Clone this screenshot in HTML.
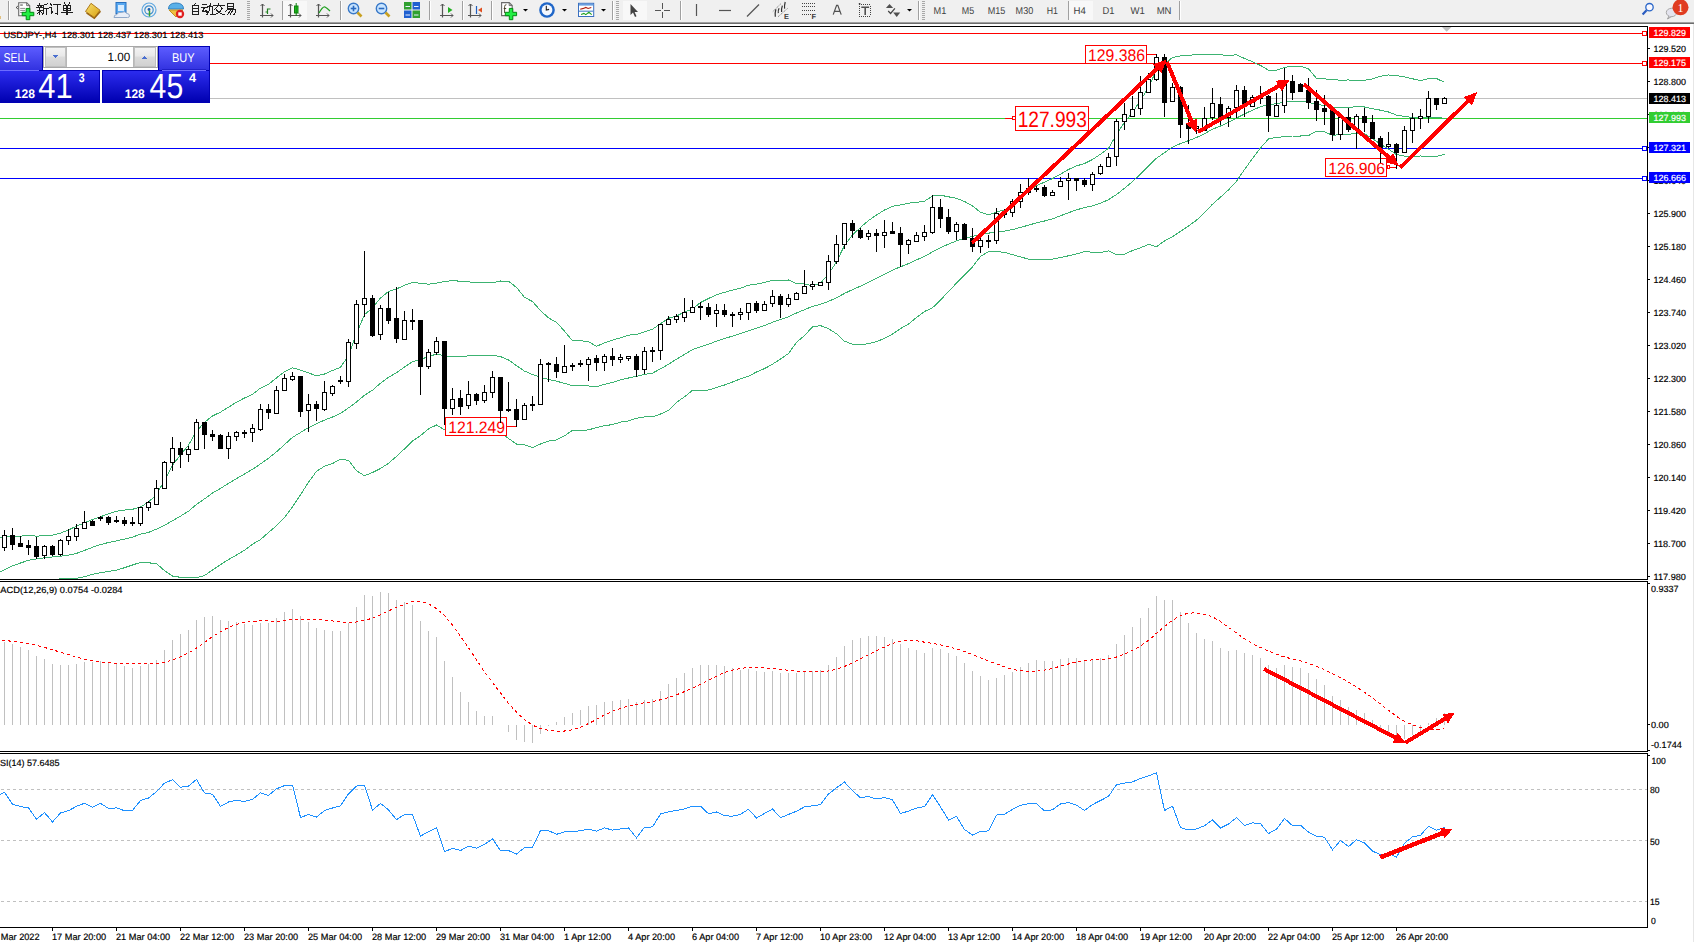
<!DOCTYPE html>
<html><head><meta charset="utf-8"><style>
html,body{margin:0;padding:0;background:#fff;}
body{width:1694px;height:942px;overflow:hidden;position:relative;}
svg{position:absolute;left:0;top:0;display:block;}
</style></head><body>
<svg width="1694" height="942" viewBox="0 0 1694 942" shape-rendering="crispEdges" text-rendering="geometricPrecision">
<rect x="0" y="0" width="1694" height="942" fill="#fff"/>
<rect x="1693" y="24" width="1" height="918" fill="#e6e6e6"/>
<g shape-rendering="geometricPrecision"><rect x="0" y="0" width="1694" height="22" fill="#f0f0f0"/><rect x="0" y="22" width="1694" height="1" fill="#a0a0a0"/><rect x="0" y="23" width="1694" height="1" fill="#6c6c6c"/><g shape-rendering="crispEdges"><line x1="8.5" y1="1" x2="8.5" y2="20" stroke="#a0a0a0"/><line x1="9.5" y1="1" x2="9.5" y2="20" stroke="#ffffff"/></g><g shape-rendering="crispEdges"><line x1="282.5" y1="1" x2="282.5" y2="20" stroke="#a0a0a0"/><line x1="283.5" y1="1" x2="283.5" y2="20" stroke="#ffffff"/></g><g shape-rendering="crispEdges"><line x1="340.5" y1="1" x2="340.5" y2="20" stroke="#a0a0a0"/><line x1="341.5" y1="1" x2="341.5" y2="20" stroke="#ffffff"/></g><g shape-rendering="crispEdges"><line x1="429.5" y1="1" x2="429.5" y2="20" stroke="#a0a0a0"/><line x1="430.5" y1="1" x2="430.5" y2="20" stroke="#ffffff"/></g><g shape-rendering="crispEdges"><line x1="462.5" y1="1" x2="462.5" y2="20" stroke="#a0a0a0"/><line x1="463.5" y1="1" x2="463.5" y2="20" stroke="#ffffff"/></g><g shape-rendering="crispEdges"><line x1="491.5" y1="1" x2="491.5" y2="20" stroke="#a0a0a0"/><line x1="492.5" y1="1" x2="492.5" y2="20" stroke="#ffffff"/></g><g shape-rendering="crispEdges"><line x1="612.5" y1="1" x2="612.5" y2="20" stroke="#a0a0a0"/><line x1="613.5" y1="1" x2="613.5" y2="20" stroke="#ffffff"/></g><g shape-rendering="crispEdges"><line x1="680.5" y1="1" x2="680.5" y2="20" stroke="#a0a0a0"/><line x1="681.5" y1="1" x2="681.5" y2="20" stroke="#ffffff"/></g><g shape-rendering="crispEdges"><line x1="918.5" y1="1" x2="918.5" y2="20" stroke="#a0a0a0"/><line x1="919.5" y1="1" x2="919.5" y2="20" stroke="#ffffff"/></g><g shape-rendering="crispEdges"><line x1="1068.5" y1="1" x2="1068.5" y2="20" stroke="#a0a0a0"/><line x1="1069.5" y1="1" x2="1069.5" y2="20" stroke="#ffffff"/></g><g shape-rendering="crispEdges"><line x1="1179.5" y1="1" x2="1179.5" y2="20" stroke="#a0a0a0"/><line x1="1180.5" y1="1" x2="1180.5" y2="20" stroke="#ffffff"/></g><rect x="247" y="1" width="3" height="1" fill="#a8a8a8"/><rect x="247" y="3" width="3" height="1" fill="#a8a8a8"/><rect x="247" y="5" width="3" height="1" fill="#a8a8a8"/><rect x="247" y="7" width="3" height="1" fill="#a8a8a8"/><rect x="247" y="9" width="3" height="1" fill="#a8a8a8"/><rect x="247" y="11" width="3" height="1" fill="#a8a8a8"/><rect x="247" y="13" width="3" height="1" fill="#a8a8a8"/><rect x="247" y="15" width="3" height="1" fill="#a8a8a8"/><rect x="247" y="17" width="3" height="1" fill="#a8a8a8"/><rect x="247" y="19" width="3" height="1" fill="#a8a8a8"/><rect x="616" y="1" width="3" height="1" fill="#a8a8a8"/><rect x="616" y="3" width="3" height="1" fill="#a8a8a8"/><rect x="616" y="5" width="3" height="1" fill="#a8a8a8"/><rect x="616" y="7" width="3" height="1" fill="#a8a8a8"/><rect x="616" y="9" width="3" height="1" fill="#a8a8a8"/><rect x="616" y="11" width="3" height="1" fill="#a8a8a8"/><rect x="616" y="13" width="3" height="1" fill="#a8a8a8"/><rect x="616" y="15" width="3" height="1" fill="#a8a8a8"/><rect x="616" y="17" width="3" height="1" fill="#a8a8a8"/><rect x="616" y="19" width="3" height="1" fill="#a8a8a8"/><rect x="922" y="1" width="3" height="1" fill="#a8a8a8"/><rect x="922" y="3" width="3" height="1" fill="#a8a8a8"/><rect x="922" y="5" width="3" height="1" fill="#a8a8a8"/><rect x="922" y="7" width="3" height="1" fill="#a8a8a8"/><rect x="922" y="9" width="3" height="1" fill="#a8a8a8"/><rect x="922" y="11" width="3" height="1" fill="#a8a8a8"/><rect x="922" y="13" width="3" height="1" fill="#a8a8a8"/><rect x="922" y="15" width="3" height="1" fill="#a8a8a8"/><rect x="922" y="17" width="3" height="1" fill="#a8a8a8"/><rect x="922" y="19" width="3" height="1" fill="#a8a8a8"/><rect x="0" y="16" width="1" height="3" fill="#e0c080"/><rect x="283" y="1" width="24" height="19" fill="#f8f8f8"/><rect x="623" y="1" width="24" height="19" fill="#f8f8f8"/><rect x="1069" y="1" width="24" height="19" fill="#f8f8f8"/><path d="M18.7 2.7 h8 l3 3 v10 h-11 z" fill="#fff" stroke="#6a6a6a" stroke-width="1.1"/><path d="M26.7 2.7 v3 h3" fill="none" stroke="#6a6a6a"/><rect x="20.2" y="4.3" width="2.6" height="1.5" fill="#808080"/><path d="M20.2 8.4 h5 M20.2 10.4 h5 M20.2 12.5 h3" stroke="#808080" stroke-width="0.9"/><path d="M16.2 7.5 l1.6 -1.4 M16.2 7.5 l1.6 1.4" stroke="#222" stroke-width="0.9"/><polygon points="26.2,8.4 29.8,8.4 29.8,12.3 33.8,12.3 33.8,15.7 29.8,15.7 29.8,19.7 26.2,19.7 26.2,15.7 22.2,15.7 22.2,12.3 26.2,12.3" fill="#22ee44" stroke="#008a10" stroke-width="1"/><path transform="translate(37,3.2) scale(0.95)" d="M3 0.5v1.2M0.5 2h5M1.6 3l0.6 1.4M4.4 3l-0.6 1.4M0 5h6M0.5 7.5h5M3 5v7M3 8l-2.5 3M3 8l2.3 2.3M11 0.6l-3.8 1.4v4.3q0 3.5-1.4 5.7M7.2 5.6h4.8M9.7 5.6v6.4" fill="none" stroke="#202020" stroke-width="1.15" stroke-linecap="square" shape-rendering="crispEdges"/><path transform="translate(49.3,3.2) scale(0.95)" d="M1.2 0.8l1.2 1.2M0.3 4.2h2v6l1.5-1.3M4.5 1.5h7M8.5 1.5v10l-1.6-1" fill="none" stroke="#202020" stroke-width="1.15" stroke-linecap="square" shape-rendering="crispEdges"/><path transform="translate(61.3,3.2) scale(0.95)" d="M3.2 0l1.1 1.7M8.8 0l-1.1 1.7M2.2 2.7h7.6v5.4h-7.6zM2.2 5.4h7.6M6 2.7v9.3M0.4 9.9h11.2" fill="none" stroke="#202020" stroke-width="1.15" stroke-linecap="square" shape-rendering="crispEdges"/><path transform="translate(189.8,3.2) scale(0.95)" d="M6 0l-1 1.6M2.5 2h7v10h-7zM2.5 5.2h7M2.5 8.6h7" fill="none" stroke="#202020" stroke-width="1.15" stroke-linecap="square" shape-rendering="crispEdges"/><path transform="translate(201.6,3.2) scale(0.95)" d="M0.6 1.6h4.8M0 4.2h6M3.2 4.2l-2.5 5h5M4.4 7.4l1.3 2.3M6.4 3.6h5v7q0 1.5-1.5 1.5M9 0.4q0 8-3.2 11.6" fill="none" stroke="#202020" stroke-width="1.15" stroke-linecap="square" shape-rendering="crispEdges"/><path transform="translate(213.2,3.2) scale(0.95)" d="M6 0v1.5M0.4 2.2h11.2M4.2 3.6l-2.6 2.6M7.8 3.6l2.6 2.6M3 6.2q3 5 8.6 5.8M9 6.2q-3 5-8.6 5.8" fill="none" stroke="#202020" stroke-width="1.15" stroke-linecap="square" shape-rendering="crispEdges"/><path transform="translate(224.8,3.2) scale(0.95)" d="M2.5 0.5h7v5h-7zM2.5 3h7M3.6 5.6l-3 3.4M3 7.1h8.2q0 4.8-2 4.8M6.1 7.1l-3 4.5M8.6 7.1l-3 4.5" fill="none" stroke="#202020" stroke-width="1.15" stroke-linecap="square" shape-rendering="crispEdges"/><defs><linearGradient id="gbk" x1="0" y1="0" x2="1" y2="1"><stop offset="0" stop-color="#f8e070"/><stop offset="1" stop-color="#d8a010"/></linearGradient></defs><path d="M85.5 11.5 L91 3.3 L100 10.2 L94.5 17.6 Z" fill="url(#gbk)" stroke="#a87010" stroke-width="0.9"/><path d="M86.5 13 L94.3 18.3 L100.5 11.2" fill="none" stroke="#9a6410" stroke-width="1.4"/><rect x="116" y="2.5" width="10" height="11" fill="#58a8f0" stroke="#2870c0"/><rect x="118" y="5" width="6" height="6" fill="#d8ecff"/><path d="M114 17.5 q0 -3 3 -3 q1 -3 4.5 -2 q3 -2 5.5 1 q2.5 0 2.5 2.5 q0 1.5 -2 1.5 z" fill="#e8eef8" stroke="#90a8c8"/><circle cx="149" cy="10" r="7" fill="none" stroke="#60a8e0" stroke-width="1.2"/><circle cx="149" cy="10" r="4.2" fill="none" stroke="#4090d0" stroke-width="1.2"/><circle cx="149" cy="9.5" r="1.4" fill="#2060b0"/><path d="M149.5 10.5 v6" stroke="#30a030" stroke-width="1.5"/><path d="M168.5 9 q0 -6 7.5 -6 q7.5 0 7.5 6 z" fill="#5ab0e8" stroke="#3080c0"/><path d="M169 10 l7 7 l7 -7 z" fill="#f0c040" stroke="#c09020"/><circle cx="180" cy="14" r="4.2" fill="#e02020"/><rect x="178.3" y="12.3" width="3.4" height="3.4" fill="#fff"/><path d="M262.5 4 v13.5 M260 15.5 h13" stroke="#555" stroke-width="1.2" fill="none"/><path d="M260.5 6 l2 -2 l2 2 M271 13.5 l2 2 l-2 2" stroke="#555" fill="none"/><path d="M267.5 14 v-5 h3 M267.5 12 h-2" stroke="#208020" stroke-width="1.2" fill="none"/><path d="M290.5 4 v13.5 M288 15.5 h13" stroke="#555" stroke-width="1.2" fill="none"/><path d="M288.5 6 l2 -2 l2 2 M299 13.5 l2 2 l-2 2" stroke="#555" fill="none"/><rect x="294.5" y="6" width="3.5" height="7" fill="#20d020" stroke="#108010"/><path d="M296.2 3 v13" stroke="#108010"/><path d="M318.5 4 v13.5 M316 15.5 h13" stroke="#555" stroke-width="1.2" fill="none"/><path d="M316.5 6 l2 -2 l2 2 M327 13.5 l2 2 l-2 2" stroke="#555" fill="none"/><path d="M319 13 q4 -7 6 -6 q2 1 5 4" stroke="#20a020" stroke-width="1.2" fill="none"/><circle cx="353.5" cy="8.5" r="5.2" fill="#c8e4ff" stroke="#3878c8" stroke-width="1.4"/><path d="M357.5 12.5 l4 4" stroke="#c8a020" stroke-width="2.6"/><path d="M350.7 8.5 h5.6" stroke="#2868c0" stroke-width="1.6"/><path d="M353.5 5.7 v5.6" stroke="#2868c0" stroke-width="1.6"/><circle cx="381.5" cy="8.5" r="5.2" fill="#c8e4ff" stroke="#3878c8" stroke-width="1.4"/><path d="M385.5 12.5 l4 4" stroke="#c8a020" stroke-width="2.6"/><path d="M378.7 8.5 h5.6" stroke="#2868c0" stroke-width="1.6"/><rect x="404" y="2" width="7.5" height="7.5" fill="#30a030"/><rect x="412.5" y="2" width="7.5" height="7.5" fill="#2060d0"/><rect x="404" y="10.5" width="7.5" height="7.5" fill="#2060d0"/><rect x="412.5" y="10.5" width="7.5" height="7.5" fill="#30a030"/><path d="M405.5 6.5 h4.5 M414 6.5 h4.5 M405.5 15 h4.5 M414 15 h4.5" stroke="#e8f0ff"/><path d="M442.5 4 v13.5 M440 15.5 h13" stroke="#555" stroke-width="1.2" fill="none"/><path d="M440.5 6 l2 -2 l2 2 M451 13.5 l2 2 l-2 2" stroke="#555" fill="none"/><polygon points="448,7 448,13 452.5,10" fill="#20b020"/><path d="M470.5 4 v13.5 M468 15.5 h13" stroke="#555" stroke-width="1.2" fill="none"/><path d="M468.5 6 l2 -2 l2 2 M479 13.5 l2 2 l-2 2" stroke="#555" fill="none"/><path d="M476.5 6 v8" stroke="#2060c0" stroke-width="1.2"/><polygon points="478,10 482,7.5 482,12.5" fill="#e05020"/><path d="M501.6 2.6 h7.6 l3 3 v10 h-10.6 z" fill="#fff" stroke="#6a6a6a" stroke-width="1.1"/><path d="M509.2 2.6 v3 h3" fill="none" stroke="#6a6a6a"/><path d="M504.6 13 v-6.5 q0 -1.8 1.8 -1.8 M503.7 8.5 h2.5" fill="none" stroke="#403820" stroke-width="0.9"/><polygon points="509.3,8.4 512.8,8.4 512.8,12.3 516.6,12.3 516.6,15.7 512.8,15.7 512.8,19.7 509.3,19.7 509.3,15.7 505.3,15.7 505.3,12.3 509.3,12.3" fill="#22ee44" stroke="#008a10" stroke-width="1"/><polygon points="523,9 528,9 525.5,11.5" fill="#000"/><polygon points="562,9 567,9 564.5,11.5" fill="#000"/><polygon points="601,9 606,9 603.5,11.5" fill="#000"/><polygon points="907,9 912,9 909.5,11.5" fill="#000"/><circle cx="547" cy="10" r="7.8" fill="#1f66c8"/><circle cx="547" cy="10" r="5.4" fill="#f4f8ff"/><path d="M546.3 5.8 v4.2 l2.8 -0.6" stroke="#222" stroke-width="1.1" fill="none"/><rect x="578.5" y="3.3" width="15.2" height="13.2" fill="#fff" stroke="#3a70c0"/><rect x="579" y="3.8" width="14.2" height="1.8" fill="#6aa0e0"/><rect x="579" y="10.6" width="14.2" height="1.2" fill="#5a90d0"/><path d="M580.2 9.3 L583.5 8.4 L585.8 7.4 L588.1 8.4 L591.3 7.4" stroke="#b02010" stroke-width="1.1" fill="none"/><path d="M581.1 14.6 L583.9 13.4 L585.8 14.6 L588.9 12.3 L591.7 14.6" stroke="#20a020" stroke-width="1.1" fill="none"/><polygon points="630.5,4 630.5,15 633,12.5 635,17 636.5,16.3 634.6,12 638,12" fill="#444"/><path d="M662.5 3 v15 M655 10.5 h15" stroke="#555"/><rect x="661" y="9" width="3" height="3" fill="#f0f0f0"/><path d="M696.5 4 v12" stroke="#555" stroke-width="1.2"/><path d="M719 10.5 h12" stroke="#555" stroke-width="1.2"/><path d="M747 16.5 l12 -12" stroke="#555" stroke-width="1.2"/><path d="M772.8 11.6 L780.8 3.8 M778 16.8 L787.6 8.4" stroke="#777" stroke-width="0.9" stroke-dasharray="1.2,0.8" fill="none"/><path d="M775.3 16.8 q-0.5 -4 0.6 -7.6 M778.3 13.2 q-0.4 -3 0.8 -5 M781.6 12 q-0.3 -3.5 0.8 -6.4 M784.6 8.6 q-0.4 -3 0.6 -6.6" stroke="#333" stroke-width="1.2" fill="none"/><text x="783.9" y="19" style="font-family:'Liberation Sans';font-size:7.4px;font-weight:bold" fill="#3a3a3a">E</text><rect x="802" y="3" width="1" height="1" fill="#444" shape-rendering="crispEdges"/><rect x="804" y="3" width="1" height="1" fill="#444" shape-rendering="crispEdges"/><rect x="806" y="3" width="1" height="1" fill="#444" shape-rendering="crispEdges"/><rect x="808" y="3" width="1" height="1" fill="#444" shape-rendering="crispEdges"/><rect x="810" y="3" width="1" height="1" fill="#444" shape-rendering="crispEdges"/><rect x="812" y="3" width="1" height="1" fill="#444" shape-rendering="crispEdges"/><rect x="814" y="3" width="1" height="1" fill="#444" shape-rendering="crispEdges"/><rect x="802" y="6" width="1" height="1" fill="#444" shape-rendering="crispEdges"/><rect x="804" y="6" width="1" height="1" fill="#444" shape-rendering="crispEdges"/><rect x="806" y="6" width="1" height="1" fill="#444" shape-rendering="crispEdges"/><rect x="808" y="6" width="1" height="1" fill="#444" shape-rendering="crispEdges"/><rect x="810" y="6" width="1" height="1" fill="#444" shape-rendering="crispEdges"/><rect x="812" y="6" width="1" height="1" fill="#444" shape-rendering="crispEdges"/><rect x="814" y="6" width="1" height="1" fill="#444" shape-rendering="crispEdges"/><rect x="802" y="10" width="1" height="1" fill="#444" shape-rendering="crispEdges"/><rect x="804" y="10" width="1" height="1" fill="#444" shape-rendering="crispEdges"/><rect x="806" y="10" width="1" height="1" fill="#444" shape-rendering="crispEdges"/><rect x="808" y="10" width="1" height="1" fill="#444" shape-rendering="crispEdges"/><rect x="810" y="10" width="1" height="1" fill="#444" shape-rendering="crispEdges"/><rect x="812" y="10" width="1" height="1" fill="#444" shape-rendering="crispEdges"/><rect x="814" y="10" width="1" height="1" fill="#444" shape-rendering="crispEdges"/><rect x="802" y="14" width="1" height="1" fill="#444" shape-rendering="crispEdges"/><rect x="804" y="14" width="1" height="1" fill="#444" shape-rendering="crispEdges"/><rect x="806" y="14" width="1" height="1" fill="#444" shape-rendering="crispEdges"/><rect x="808" y="14" width="1" height="1" fill="#444" shape-rendering="crispEdges"/><rect x="810" y="14" width="1" height="1" fill="#444" shape-rendering="crispEdges"/><text x="811.6" y="19" style="font-family:'Liberation Sans';font-size:7.4px;font-weight:bold" fill="#3a3a3a">F</text><path d="M833.2 14.6 L836.6 5.4 L837.8 5.4 L841.2 14.6 M834.6 11.4 h5.2" stroke="#505050" stroke-width="1.2" fill="none"/><rect x="859" y="4" width="1" height="1" fill="#444" shape-rendering="crispEdges"/><rect x="859" y="16" width="1" height="1" fill="#444" shape-rendering="crispEdges"/><rect x="861" y="4" width="1" height="1" fill="#444" shape-rendering="crispEdges"/><rect x="861" y="16" width="1" height="1" fill="#444" shape-rendering="crispEdges"/><rect x="863" y="4" width="1" height="1" fill="#444" shape-rendering="crispEdges"/><rect x="863" y="16" width="1" height="1" fill="#444" shape-rendering="crispEdges"/><rect x="865" y="4" width="1" height="1" fill="#444" shape-rendering="crispEdges"/><rect x="865" y="16" width="1" height="1" fill="#444" shape-rendering="crispEdges"/><rect x="867" y="4" width="1" height="1" fill="#444" shape-rendering="crispEdges"/><rect x="867" y="16" width="1" height="1" fill="#444" shape-rendering="crispEdges"/><rect x="869" y="4" width="1" height="1" fill="#444" shape-rendering="crispEdges"/><rect x="869" y="16" width="1" height="1" fill="#444" shape-rendering="crispEdges"/><rect x="859" y="6" width="1" height="1" fill="#444" shape-rendering="crispEdges"/><rect x="870" y="6" width="1" height="1" fill="#444" shape-rendering="crispEdges"/><rect x="859" y="8" width="1" height="1" fill="#444" shape-rendering="crispEdges"/><rect x="870" y="8" width="1" height="1" fill="#444" shape-rendering="crispEdges"/><rect x="859" y="10" width="1" height="1" fill="#444" shape-rendering="crispEdges"/><rect x="870" y="10" width="1" height="1" fill="#444" shape-rendering="crispEdges"/><rect x="859" y="12" width="1" height="1" fill="#444" shape-rendering="crispEdges"/><rect x="870" y="12" width="1" height="1" fill="#444" shape-rendering="crispEdges"/><rect x="859" y="14" width="1" height="1" fill="#444" shape-rendering="crispEdges"/><rect x="870" y="14" width="1" height="1" fill="#444" shape-rendering="crispEdges"/><rect x="858.8" y="3" width="1.6" height="1.4" fill="#444"/><path d="M861.3 7.3 h7.8 M865.2 7.3 v7.6" stroke="#505050" stroke-width="1.6" fill="none"/><polygon points="889.5,4 893.2,8 885.9,8" fill="#505050"/><path d="M888.2 11 L890.6 13.5 L894.9 8.3" stroke="#444" stroke-width="1.2" fill="none"/><polygon points="893.2,12.6 900.2,12.6 896.7,17" fill="#505050"/><text x="933.5" y="14.3" style="font-family:'Liberation Sans';font-size:10px" fill="#404040" textLength="12.8" lengthAdjust="spacingAndGlyphs">M1</text><text x="961.8" y="14.3" style="font-family:'Liberation Sans';font-size:10px" fill="#404040" textLength="12.4" lengthAdjust="spacingAndGlyphs">M5</text><text x="987.7" y="14.3" style="font-family:'Liberation Sans';font-size:10px" fill="#404040" textLength="17.6" lengthAdjust="spacingAndGlyphs">M15</text><text x="1015.6" y="14.3" style="font-family:'Liberation Sans';font-size:10px" fill="#404040" textLength="17.6" lengthAdjust="spacingAndGlyphs">M30</text><text x="1046.7" y="14.3" style="font-family:'Liberation Sans';font-size:10px" fill="#404040" textLength="11.2" lengthAdjust="spacingAndGlyphs">H1</text><text x="1073.5" y="14.3" style="font-family:'Liberation Sans';font-size:10px" fill="#404040" textLength="12.3" lengthAdjust="spacingAndGlyphs">H4</text><text x="1102.5" y="14.3" style="font-family:'Liberation Sans';font-size:10px" fill="#404040" textLength="12.0" lengthAdjust="spacingAndGlyphs">D1</text><text x="1130.4" y="14.3" style="font-family:'Liberation Sans';font-size:10px" fill="#404040" textLength="14.3" lengthAdjust="spacingAndGlyphs">W1</text><text x="1156.7" y="14.3" style="font-family:'Liberation Sans';font-size:10px" fill="#404040" textLength="14.8" lengthAdjust="spacingAndGlyphs">MN</text><circle cx="1649.5" cy="7.2" r="3.7" fill="#f8f8ff" stroke="#2a66c8" stroke-width="1.3"/><path d="M1646.6 10.3 l-4 4.2" stroke="#2a5cc0" stroke-width="2.2"/><ellipse cx="1671.5" cy="12.5" rx="5.2" ry="4.2" fill="#e4e4ee" stroke="#a8a8a8"/><path d="M1669 16 l-1.5 3 l4 -2.5" fill="#d8d8e0" stroke="#a0a0a0"/><circle cx="1680.5" cy="7.3" r="8" fill="#e03c20"/><text x="1677.5" y="11.5" style="font-family:'Liberation Serif';font-size:12px" fill="#fff">1</text></g>
<defs><clipPath id="cm"><rect x="0" y="27" width="1647" height="552"/></clipPath><clipPath id="cd"><rect x="0" y="582" width="1647" height="169"/></clipPath><clipPath id="cr"><rect x="0" y="754" width="1647" height="173"/></clipPath></defs><g clip-path="url(#cm)"><line x1="0" y1="33.5" x2="1643" y2="33.5" stroke="#ff0000"/><line x1="0" y1="63.5" x2="1643" y2="63.5" stroke="#ff0000"/><line x1="210" y1="98.5" x2="1647" y2="98.5" stroke="#c0c0c0"/><line x1="0" y1="118.5" x2="1647" y2="118.5" stroke="#32cd32"/><line x1="0" y1="148.5" x2="1643" y2="148.5" stroke="#0000ff"/><line x1="0" y1="178.5" x2="1643" y2="178.5" stroke="#0000ff"/><rect x="1642.5" y="31.5" width="4" height="4" fill="#fff" stroke="#ff0000"/><rect x="1642.5" y="61.5" width="4" height="4" fill="#fff" stroke="#ff0000"/><rect x="1642.5" y="146.5" width="4" height="4" fill="#fff" stroke="#0000ff"/><rect x="1642.5" y="176.5" width="4" height="4" fill="#fff" stroke="#0000ff"/><polyline points="-3.5,537.3 4.5,537.1 12.5,536.8 20.5,536.1 28.5,535.4 36.5,536.2 44.5,535.5 52.5,535.1 60.5,533.1 68.5,529.9 76.5,526.2 84.5,522.8 92.5,519.5 100.5,516.8 108.5,513.7 116.5,511.2 124.5,510.1 132.5,509.3 140.5,507.0 148.5,502.0 156.5,494.6 164.5,480.4 172.5,465.2 180.5,454.8 188.5,445.2 196.5,431.3 204.5,422.3 212.5,416.0 220.5,412.1 228.5,407.2 236.5,402.2 244.5,398.0 252.5,394.4 260.5,388.1 268.5,384.3 276.5,377.9 284.5,371.6 292.5,367.8 300.5,370.1 308.5,372.9 316.5,375.9 324.5,374.0 332.5,370.5 340.5,367.4 348.5,355.5 356.5,333.3 364.5,314.7 372.5,307.9 380.5,298.0 388.5,291.5 396.5,289.0 404.5,285.2 412.5,282.4 420.5,283.3 428.5,284.2 436.5,283.2 444.5,281.5 452.5,280.7 460.5,281.2 468.5,281.9 476.5,282.4 484.5,282.5 492.5,282.7 500.5,281.0 508.5,281.3 516.5,287.4 524.5,297.4 532.5,301.5 540.5,310.6 548.5,317.8 556.5,322.4 564.5,331.1 572.5,340.9 580.5,340.6 588.5,341.8 596.5,346.3 604.5,342.9 612.5,340.1 620.5,337.8 628.5,335.1 636.5,334.6 644.5,331.9 652.5,329.3 660.5,323.6 668.5,318.3 676.5,315.9 684.5,312.2 692.5,308.9 700.5,302.5 708.5,298.5 716.5,294.9 724.5,292.3 732.5,290.2 740.5,288.2 748.5,285.2 756.5,284.2 764.5,282.4 772.5,280.4 780.5,280.2 788.5,280.0 796.5,283.6 804.5,283.9 812.5,285.9 820.5,283.1 828.5,274.2 836.5,261.8 844.5,245.5 852.5,234.9 860.5,227.4 868.5,220.5 876.5,215.0 884.5,210.0 892.5,206.3 900.5,205.0 908.5,203.2 916.5,202.3 924.5,201.2 932.5,196.0 940.5,195.2 948.5,196.8 956.5,198.4 964.5,201.5 972.5,206.0 980.5,212.2 988.5,214.8 996.5,212.0 1004.5,209.8 1012.5,204.6 1020.5,197.9 1028.5,191.2 1036.5,185.6 1044.5,182.1 1052.5,178.6 1060.5,174.1 1068.5,169.5 1076.5,165.9 1084.5,163.5 1092.5,159.5 1100.5,154.2 1108.5,148.4 1116.5,134.3 1124.5,122.2 1132.5,112.5 1140.5,100.3 1148.5,87.6 1156.5,69.8 1164.5,64.6 1172.5,57.4 1180.5,56.0 1188.5,55.2 1196.5,54.8 1204.5,54.9 1212.5,54.3 1220.5,54.9 1228.5,55.2 1236.5,54.9 1244.5,58.5 1252.5,61.7 1260.5,65.5 1268.5,70.2 1276.5,70.3 1284.5,67.3 1292.5,66.3 1300.5,66.1 1308.5,68.8 1316.5,78.4 1324.5,78.8 1332.5,79.8 1340.5,80.1 1348.5,80.0 1356.5,80.5 1364.5,80.3 1372.5,78.9 1380.5,76.2 1388.5,75.0 1396.5,75.6 1404.5,76.8 1412.5,78.8 1420.5,80.6 1428.5,78.7 1436.5,78.5 1444.5,82.4" fill="none" stroke="#3cb371" stroke-width="1"/><polyline points="-3.5,573.5 4.5,569.7 12.5,565.9 20.5,563.0 28.5,560.3 36.5,558.9 44.5,557.8 52.5,557.0 60.5,556.2 68.5,555.1 76.5,553.4 84.5,550.4 92.5,547.3 100.5,544.6 108.5,542.5 116.5,540.9 124.5,539.1 132.5,537.1 140.5,534.1 148.5,532.4 156.5,529.1 164.5,525.5 172.5,520.7 180.5,516.1 188.5,511.2 196.5,504.5 204.5,498.9 212.5,493.0 220.5,488.4 228.5,483.4 236.5,478.6 244.5,474.1 252.5,469.3 260.5,463.9 268.5,458.3 276.5,451.8 284.5,444.6 292.5,437.3 300.5,432.5 308.5,427.6 316.5,423.6 324.5,420.1 332.5,417.0 340.5,413.3 348.5,407.9 356.5,402.0 364.5,395.2 372.5,390.2 380.5,383.2 388.5,377.4 396.5,372.7 404.5,367.0 412.5,361.7 420.5,359.5 428.5,356.5 436.5,354.1 444.5,355.6 452.5,356.7 460.5,356.4 468.5,355.9 476.5,355.6 484.5,355.5 492.5,355.1 500.5,356.6 508.5,359.9 516.5,365.7 524.5,371.1 532.5,374.5 540.5,377.3 548.5,379.5 556.5,381.2 564.5,383.4 572.5,385.6 580.5,385.5 588.5,385.9 596.5,386.9 604.5,384.3 612.5,382.4 620.5,379.9 628.5,378.0 636.5,376.4 644.5,374.4 652.5,373.1 660.5,368.8 668.5,364.3 676.5,359.1 684.5,354.5 692.5,349.6 700.5,346.7 708.5,344.3 716.5,341.2 724.5,338.6 732.5,336.1 740.5,333.5 748.5,330.7 756.5,328.1 764.5,325.5 772.5,322.3 780.5,319.6 788.5,316.8 796.5,313.0 804.5,309.7 812.5,306.4 820.5,304.3 828.5,301.4 836.5,297.8 844.5,293.4 852.5,289.6 860.5,286.1 868.5,282.1 876.5,278.3 884.5,274.2 892.5,270.1 900.5,266.8 908.5,263.6 916.5,259.9 924.5,256.3 932.5,251.9 940.5,247.6 948.5,244.2 956.5,240.8 964.5,238.4 972.5,236.4 980.5,234.3 988.5,233.2 996.5,231.7 1004.5,231.1 1012.5,229.6 1020.5,227.4 1028.5,225.2 1036.5,222.8 1044.5,221.0 1052.5,218.9 1060.5,215.8 1068.5,212.7 1076.5,209.9 1084.5,207.5 1092.5,205.9 1100.5,203.3 1108.5,199.6 1116.5,194.5 1124.5,188.3 1132.5,181.5 1140.5,174.1 1148.5,166.0 1156.5,158.2 1164.5,152.7 1172.5,147.1 1180.5,143.6 1188.5,140.6 1196.5,137.5 1204.5,133.7 1212.5,129.2 1220.5,126.0 1228.5,122.5 1236.5,118.0 1244.5,114.0 1252.5,110.1 1260.5,106.7 1268.5,104.6 1276.5,103.8 1284.5,102.0 1292.5,101.2 1300.5,101.1 1308.5,102.2 1316.5,104.8 1324.5,105.2 1332.5,107.6 1340.5,107.2 1348.5,107.3 1356.5,106.8 1364.5,107.0 1372.5,108.7 1380.5,110.2 1388.5,112.0 1396.5,115.1 1404.5,116.4 1412.5,117.5 1420.5,118.3 1428.5,117.5 1436.5,117.4 1444.5,118.3" fill="none" stroke="#3cb371" stroke-width="1"/><polyline points="-3.5,611.7 4.5,607.8 12.5,603.8 20.5,599.7 28.5,595.8 36.5,590.9 44.5,585.9 52.5,580.8 60.5,578.5 68.5,578.4 76.5,578.4 84.5,576.7 92.5,574.2 100.5,572.8 108.5,571.5 116.5,570.1 124.5,567.7 132.5,565.0 140.5,562.4 148.5,562.8 156.5,563.6 164.5,570.6 172.5,576.1 180.5,577.3 188.5,577.2 196.5,577.7 204.5,575.6 212.5,570.0 220.5,564.6 228.5,559.6 236.5,555.0 244.5,550.3 252.5,544.2 260.5,539.6 268.5,532.4 276.5,525.7 284.5,517.5 292.5,506.7 300.5,494.9 308.5,482.3 316.5,471.3 324.5,466.2 332.5,463.5 340.5,459.2 348.5,460.3 356.5,470.8 364.5,475.7 372.5,472.5 380.5,468.5 388.5,463.3 396.5,456.4 404.5,448.9 412.5,440.9 420.5,435.7 428.5,428.9 436.5,425.0 444.5,429.7 452.5,432.7 460.5,431.6 468.5,430.0 476.5,428.7 484.5,428.6 492.5,427.5 500.5,432.1 508.5,438.5 516.5,444.0 524.5,444.7 532.5,447.5 540.5,444.0 548.5,441.1 556.5,439.9 564.5,435.8 572.5,430.4 580.5,430.5 588.5,429.9 596.5,427.5 604.5,425.7 612.5,424.6 620.5,422.1 628.5,420.9 636.5,418.2 644.5,416.9 652.5,416.8 660.5,414.0 668.5,410.3 676.5,402.3 684.5,396.8 692.5,390.3 700.5,391.0 708.5,390.0 716.5,387.5 724.5,385.0 732.5,382.0 740.5,378.8 748.5,376.2 756.5,372.0 764.5,368.6 772.5,364.2 780.5,359.0 788.5,353.5 796.5,342.4 804.5,335.6 812.5,326.9 820.5,325.6 828.5,328.7 836.5,333.8 844.5,341.2 852.5,344.2 860.5,344.8 868.5,343.6 876.5,341.6 884.5,338.4 892.5,334.0 900.5,328.6 908.5,324.1 916.5,317.5 924.5,311.5 932.5,307.8 940.5,300.0 948.5,291.6 956.5,283.1 964.5,275.2 972.5,266.9 980.5,256.4 988.5,251.7 996.5,251.4 1004.5,252.4 1012.5,254.6 1020.5,256.9 1028.5,259.1 1036.5,260.0 1044.5,259.8 1052.5,259.2 1060.5,257.5 1068.5,255.8 1076.5,253.9 1084.5,251.6 1092.5,252.2 1100.5,252.4 1108.5,250.9 1116.5,254.7 1124.5,254.3 1132.5,250.5 1140.5,247.8 1148.5,244.4 1156.5,246.7 1164.5,240.9 1172.5,236.7 1180.5,231.3 1188.5,226.0 1196.5,220.2 1204.5,212.5 1212.5,204.2 1220.5,197.2 1228.5,189.9 1236.5,181.2 1244.5,169.5 1252.5,158.6 1260.5,147.9 1268.5,139.0 1276.5,137.3 1284.5,136.8 1292.5,136.0 1300.5,136.0 1308.5,135.6 1316.5,131.2 1324.5,131.7 1332.5,135.4 1340.5,134.4 1348.5,134.5 1356.5,133.0 1364.5,133.6 1372.5,138.6 1380.5,144.2 1388.5,149.1 1396.5,154.6 1404.5,156.1 1412.5,156.2 1420.5,156.0 1428.5,156.2 1436.5,156.3 1444.5,154.3" fill="none" stroke="#3cb371" stroke-width="1"/><line x1="1147" y1="54.5" x2="1157" y2="54.5" stroke="#ff0000"/><rect x="1085.5" y="45.5" width="61" height="18" fill="#fff" stroke="#ff0000"/><text x="1088" y="61" style="font-family:'Liberation Sans',sans-serif;font-size:16.8px" fill="#ff0000" textLength="57" lengthAdjust="spacingAndGlyphs">129.386</text><line x1="1005" y1="118.5" x2="1012" y2="118.5" stroke="#ff0000"/><rect x="1012.5" y="116.5" width="3" height="3" fill="#fff" stroke="#ff0000"/><rect x="1015.5" y="106.5" width="73" height="24" fill="#fff" stroke="#ff0000"/><text x="1017.7" y="127" style="font-family:'Liberation Sans',sans-serif;font-size:22.3px" fill="#ff0000" textLength="69.09999999999991" lengthAdjust="spacingAndGlyphs">127.993</text><path d="M507 426.5 H516.5 V419" fill="none" stroke="#ff0000"/><rect x="445.5" y="417.5" width="61" height="18" fill="#fff" stroke="#ff0000"/><text x="448.2" y="433.1" style="font-family:'Liberation Sans',sans-serif;font-size:16.6px" fill="#ff0000" textLength="56.900000000000034" lengthAdjust="spacingAndGlyphs">121.249</text><path d="M1390 167.5 H1396.5" fill="none" stroke="#ff0000"/><rect x="1387.5" y="165.5" width="2" height="3" fill="#fff" stroke="#ff0000"/><rect x="1325.5" y="158.5" width="61" height="18" fill="#fff" stroke="#ff0000"/><text x="1328.2" y="173.9" style="font-family:'Liberation Sans',sans-serif;font-size:16.3px" fill="#ff0000" textLength="56.899999999999864" lengthAdjust="spacingAndGlyphs">126.906</text><line x1="4.5" y1="530" x2="4.5" y2="551" stroke="#000"/><rect x="2.5" y="535.5" width="4" height="12" fill="#fff" stroke="#000"/><line x1="12.5" y1="528" x2="12.5" y2="550" stroke="#000"/><rect x="10" y="535" width="5" height="10" fill="#000"/><line x1="20.5" y1="536" x2="20.5" y2="547" stroke="#000"/><rect x="18" y="543" width="5" height="4" fill="#000"/><line x1="28.5" y1="540" x2="28.5" y2="555" stroke="#000"/><rect x="26" y="545" width="5" height="3" fill="#000"/><line x1="36.5" y1="537" x2="36.5" y2="559" stroke="#000"/><rect x="34" y="546" width="5" height="11" fill="#000"/><line x1="44.5" y1="545" x2="44.5" y2="559" stroke="#000"/><rect x="42.5" y="546.5" width="4" height="9" fill="#fff" stroke="#000"/><line x1="52.5" y1="545" x2="52.5" y2="556" stroke="#000"/><rect x="50" y="546" width="5" height="9" fill="#000"/><line x1="60.5" y1="539" x2="60.5" y2="556" stroke="#000"/><rect x="58.5" y="540.5" width="4" height="14" fill="#fff" stroke="#000"/><line x1="68.5" y1="529" x2="68.5" y2="545" stroke="#000"/><rect x="66.5" y="536.5" width="4" height="4" fill="#fff" stroke="#000"/><line x1="76.5" y1="524" x2="76.5" y2="541" stroke="#000"/><rect x="74.5" y="528.5" width="4" height="8" fill="#fff" stroke="#000"/><line x1="84.5" y1="511" x2="84.5" y2="529" stroke="#000"/><rect x="82.5" y="522.5" width="4" height="6" fill="#fff" stroke="#000"/><line x1="92.5" y1="520" x2="92.5" y2="526" stroke="#000"/><rect x="90" y="521" width="5" height="5" fill="#000"/><line x1="100.5" y1="516" x2="100.5" y2="521" stroke="#000"/><rect x="98" y="517" width="5" height="2" fill="#000"/><line x1="108.5" y1="516" x2="108.5" y2="525" stroke="#000"/><rect x="106" y="517" width="5" height="6" fill="#000"/><line x1="116.5" y1="516" x2="116.5" y2="523" stroke="#000"/><rect x="114" y="520" width="5" height="2" fill="#000"/><line x1="124.5" y1="517" x2="124.5" y2="526" stroke="#000"/><rect x="122" y="520" width="5" height="4" fill="#000"/><line x1="132.5" y1="517" x2="132.5" y2="526" stroke="#000"/><rect x="130" y="522" width="5" height="2" fill="#000"/><line x1="140.5" y1="507" x2="140.5" y2="526" stroke="#000"/><rect x="138.5" y="507.5" width="4" height="16" fill="#fff" stroke="#000"/><line x1="148.5" y1="501" x2="148.5" y2="511" stroke="#000"/><rect x="146.5" y="502.5" width="4" height="5" fill="#fff" stroke="#000"/><line x1="156.5" y1="480" x2="156.5" y2="505" stroke="#000"/><rect x="154.5" y="488.5" width="4" height="16" fill="#fff" stroke="#000"/><line x1="164.5" y1="461" x2="164.5" y2="489" stroke="#000"/><rect x="162.5" y="462.5" width="4" height="26" fill="#fff" stroke="#000"/><line x1="172.5" y1="437" x2="172.5" y2="471" stroke="#000"/><rect x="170.5" y="448.5" width="4" height="14" fill="#fff" stroke="#000"/><line x1="180.5" y1="442" x2="180.5" y2="468" stroke="#000"/><rect x="178" y="448" width="5" height="7" fill="#000"/><line x1="188.5" y1="446" x2="188.5" y2="462" stroke="#000"/><rect x="186.5" y="449.5" width="4" height="5" fill="#fff" stroke="#000"/><line x1="196.5" y1="419" x2="196.5" y2="450" stroke="#000"/><rect x="194.5" y="422.5" width="4" height="27" fill="#fff" stroke="#000"/><line x1="204.5" y1="422" x2="204.5" y2="449" stroke="#000"/><rect x="202" y="422" width="5" height="13" fill="#000"/><line x1="212.5" y1="430" x2="212.5" y2="441" stroke="#000"/><rect x="210" y="434" width="5" height="3" fill="#000"/><line x1="220.5" y1="434" x2="220.5" y2="449" stroke="#000"/><rect x="218" y="435" width="5" height="14" fill="#000"/><line x1="228.5" y1="432" x2="228.5" y2="459" stroke="#000"/><rect x="226.5" y="436.5" width="4" height="12" fill="#fff" stroke="#000"/><line x1="236.5" y1="431" x2="236.5" y2="441" stroke="#000"/><rect x="234.5" y="432.5" width="4" height="4" fill="#fff" stroke="#000"/><line x1="244.5" y1="430" x2="244.5" y2="438" stroke="#000"/><rect x="242" y="432" width="5" height="2" fill="#000"/><line x1="252.5" y1="424" x2="252.5" y2="442" stroke="#000"/><rect x="250.5" y="428.5" width="4" height="4" fill="#fff" stroke="#000"/><line x1="260.5" y1="404" x2="260.5" y2="431" stroke="#000"/><rect x="258.5" y="409.5" width="4" height="20" fill="#fff" stroke="#000"/><line x1="268.5" y1="404" x2="268.5" y2="419" stroke="#000"/><rect x="266" y="409" width="5" height="4" fill="#000"/><line x1="276.5" y1="386" x2="276.5" y2="414" stroke="#000"/><rect x="274.5" y="390.5" width="4" height="23" fill="#fff" stroke="#000"/><line x1="284.5" y1="374" x2="284.5" y2="391" stroke="#000"/><rect x="282.5" y="378.5" width="4" height="12" fill="#fff" stroke="#000"/><line x1="292.5" y1="372" x2="292.5" y2="381" stroke="#000"/><rect x="290.5" y="376.5" width="4" height="3" fill="#fff" stroke="#000"/><line x1="300.5" y1="376" x2="300.5" y2="417" stroke="#000"/><rect x="298" y="376" width="5" height="36" fill="#000"/><line x1="308.5" y1="394" x2="308.5" y2="432" stroke="#000"/><rect x="306.5" y="404.5" width="4" height="6" fill="#fff" stroke="#000"/><line x1="316.5" y1="401" x2="316.5" y2="421" stroke="#000"/><rect x="314" y="404" width="5" height="5" fill="#000"/><line x1="324.5" y1="381" x2="324.5" y2="411" stroke="#000"/><rect x="322.5" y="392.5" width="4" height="17" fill="#fff" stroke="#000"/><line x1="332.5" y1="385" x2="332.5" y2="396" stroke="#000"/><rect x="330.5" y="386.5" width="4" height="7" fill="#fff" stroke="#000"/><line x1="340.5" y1="376" x2="340.5" y2="384" stroke="#000"/><rect x="338.5" y="380.5" width="4" height="1" fill="#fff" stroke="#000"/><line x1="348.5" y1="339" x2="348.5" y2="387" stroke="#000"/><rect x="346.5" y="342.5" width="4" height="39" fill="#fff" stroke="#000"/><line x1="356.5" y1="300" x2="356.5" y2="349" stroke="#000"/><rect x="354.5" y="304.5" width="4" height="39" fill="#fff" stroke="#000"/><line x1="364.5" y1="251" x2="364.5" y2="317" stroke="#000"/><rect x="362.5" y="298.5" width="4" height="6" fill="#fff" stroke="#000"/><line x1="372.5" y1="295" x2="372.5" y2="337" stroke="#000"/><rect x="370" y="298" width="5" height="38" fill="#000"/><line x1="380.5" y1="305" x2="380.5" y2="340" stroke="#000"/><rect x="378.5" y="308.5" width="4" height="26" fill="#fff" stroke="#000"/><line x1="388.5" y1="292" x2="388.5" y2="324" stroke="#000"/><rect x="386" y="308" width="5" height="13" fill="#000"/><line x1="396.5" y1="287" x2="396.5" y2="343" stroke="#000"/><rect x="394" y="318" width="5" height="21" fill="#000"/><line x1="404.5" y1="311" x2="404.5" y2="340" stroke="#000"/><rect x="402.5" y="320.5" width="4" height="19" fill="#fff" stroke="#000"/><line x1="412.5" y1="309" x2="412.5" y2="330" stroke="#000"/><rect x="410" y="320" width="5" height="2" fill="#000"/><line x1="420.5" y1="320" x2="420.5" y2="395" stroke="#000"/><rect x="418" y="320" width="5" height="47" fill="#000"/><line x1="428.5" y1="349" x2="428.5" y2="369" stroke="#000"/><rect x="426.5" y="352.5" width="4" height="14" fill="#fff" stroke="#000"/><line x1="436.5" y1="337" x2="436.5" y2="355" stroke="#000"/><rect x="434.5" y="341.5" width="4" height="11" fill="#fff" stroke="#000"/><line x1="444.5" y1="341" x2="444.5" y2="425" stroke="#000"/><rect x="442" y="341" width="5" height="68" fill="#000"/><line x1="452.5" y1="388" x2="452.5" y2="415" stroke="#000"/><rect x="450.5" y="399.5" width="4" height="9" fill="#fff" stroke="#000"/><line x1="460.5" y1="390" x2="460.5" y2="415" stroke="#000"/><rect x="458" y="398" width="5" height="9" fill="#000"/><line x1="468.5" y1="381" x2="468.5" y2="409" stroke="#000"/><rect x="466.5" y="394.5" width="4" height="11" fill="#fff" stroke="#000"/><line x1="476.5" y1="393" x2="476.5" y2="405" stroke="#000"/><rect x="474" y="394" width="5" height="7" fill="#000"/><line x1="484.5" y1="385" x2="484.5" y2="403" stroke="#000"/><rect x="482.5" y="392.5" width="4" height="8" fill="#fff" stroke="#000"/><line x1="492.5" y1="371" x2="492.5" y2="398" stroke="#000"/><rect x="490.5" y="377.5" width="4" height="15" fill="#fff" stroke="#000"/><line x1="500.5" y1="377" x2="500.5" y2="423" stroke="#000"/><rect x="498" y="377" width="5" height="34" fill="#000"/><line x1="508.5" y1="382" x2="508.5" y2="412" stroke="#000"/><rect x="506" y="409" width="5" height="2" fill="#000"/><line x1="516.5" y1="399" x2="516.5" y2="427" stroke="#000"/><rect x="514" y="409" width="5" height="11" fill="#000"/><line x1="524.5" y1="403" x2="524.5" y2="420" stroke="#000"/><rect x="522.5" y="405.5" width="4" height="14" fill="#fff" stroke="#000"/><line x1="532.5" y1="396" x2="532.5" y2="411" stroke="#000"/><rect x="530.5" y="404.5" width="4" height="1" fill="#fff" stroke="#000"/><line x1="540.5" y1="359" x2="540.5" y2="405" stroke="#000"/><rect x="538.5" y="364.5" width="4" height="40" fill="#fff" stroke="#000"/><line x1="548.5" y1="362" x2="548.5" y2="382" stroke="#000"/><rect x="546" y="363" width="5" height="2" fill="#000"/><line x1="556.5" y1="357" x2="556.5" y2="378" stroke="#000"/><rect x="554" y="364" width="5" height="8" fill="#000"/><line x1="564.5" y1="345" x2="564.5" y2="373" stroke="#000"/><rect x="562.5" y="366.5" width="4" height="6" fill="#fff" stroke="#000"/><line x1="572.5" y1="363" x2="572.5" y2="371" stroke="#000"/><rect x="570.5" y="365.5" width="4" height="1" fill="#fff" stroke="#000"/><line x1="580.5" y1="360" x2="580.5" y2="367" stroke="#000"/><rect x="578.5" y="363.5" width="4" height="1" fill="#fff" stroke="#000"/><line x1="588.5" y1="357" x2="588.5" y2="381" stroke="#000"/><rect x="586.5" y="359.5" width="4" height="5" fill="#fff" stroke="#000"/><line x1="596.5" y1="355" x2="596.5" y2="371" stroke="#000"/><rect x="594" y="358" width="5" height="5" fill="#000"/><line x1="604.5" y1="354" x2="604.5" y2="371" stroke="#000"/><rect x="602.5" y="356.5" width="4" height="6" fill="#fff" stroke="#000"/><line x1="612.5" y1="348" x2="612.5" y2="366" stroke="#000"/><rect x="610" y="356" width="5" height="4" fill="#000"/><line x1="620.5" y1="354" x2="620.5" y2="363" stroke="#000"/><rect x="618.5" y="357.5" width="4" height="2" fill="#fff" stroke="#000"/><line x1="628.5" y1="356" x2="628.5" y2="361" stroke="#000"/><rect x="626.5" y="356.5" width="4" height="2" fill="#fff" stroke="#000"/><line x1="636.5" y1="354" x2="636.5" y2="377" stroke="#000"/><rect x="634" y="356" width="5" height="14" fill="#000"/><line x1="644.5" y1="347" x2="644.5" y2="374" stroke="#000"/><rect x="642.5" y="351.5" width="4" height="18" fill="#fff" stroke="#000"/><line x1="652.5" y1="347" x2="652.5" y2="362" stroke="#000"/><rect x="650.5" y="350.5" width="4" height="1" fill="#fff" stroke="#000"/><line x1="660.5" y1="324" x2="660.5" y2="360" stroke="#000"/><rect x="658.5" y="324.5" width="4" height="26" fill="#fff" stroke="#000"/><line x1="668.5" y1="316" x2="668.5" y2="325" stroke="#000"/><rect x="666.5" y="319.5" width="4" height="5" fill="#fff" stroke="#000"/><line x1="676.5" y1="314" x2="676.5" y2="323" stroke="#000"/><rect x="674.5" y="316.5" width="4" height="3" fill="#fff" stroke="#000"/><line x1="684.5" y1="298" x2="684.5" y2="322" stroke="#000"/><rect x="682.5" y="312.5" width="4" height="5" fill="#fff" stroke="#000"/><line x1="692.5" y1="300" x2="692.5" y2="313" stroke="#000"/><rect x="690.5" y="307.5" width="4" height="5" fill="#fff" stroke="#000"/><line x1="700.5" y1="302" x2="700.5" y2="320" stroke="#000"/><rect x="698" y="306" width="5" height="2" fill="#000"/><line x1="708.5" y1="303" x2="708.5" y2="317" stroke="#000"/><rect x="706" y="307" width="5" height="8" fill="#000"/><line x1="716.5" y1="304" x2="716.5" y2="327" stroke="#000"/><rect x="714.5" y="310.5" width="4" height="3" fill="#fff" stroke="#000"/><line x1="724.5" y1="304" x2="724.5" y2="317" stroke="#000"/><rect x="722" y="310" width="5" height="5" fill="#000"/><line x1="732.5" y1="312" x2="732.5" y2="327" stroke="#000"/><rect x="730" y="314" width="5" height="2" fill="#000"/><line x1="740.5" y1="308" x2="740.5" y2="320" stroke="#000"/><rect x="738.5" y="312.5" width="4" height="2" fill="#fff" stroke="#000"/><line x1="748.5" y1="303" x2="748.5" y2="320" stroke="#000"/><rect x="746.5" y="303.5" width="4" height="9" fill="#fff" stroke="#000"/><line x1="756.5" y1="301" x2="756.5" y2="313" stroke="#000"/><rect x="754" y="303" width="5" height="8" fill="#000"/><line x1="764.5" y1="301" x2="764.5" y2="311" stroke="#000"/><rect x="762.5" y="304.5" width="4" height="6" fill="#fff" stroke="#000"/><line x1="772.5" y1="290" x2="772.5" y2="307" stroke="#000"/><rect x="770.5" y="296.5" width="4" height="7" fill="#fff" stroke="#000"/><line x1="780.5" y1="294" x2="780.5" y2="318" stroke="#000"/><rect x="778" y="296" width="5" height="9" fill="#000"/><line x1="788.5" y1="294" x2="788.5" y2="307" stroke="#000"/><rect x="786.5" y="298.5" width="4" height="6" fill="#fff" stroke="#000"/><line x1="796.5" y1="292" x2="796.5" y2="300" stroke="#000"/><rect x="794.5" y="293.5" width="4" height="6" fill="#fff" stroke="#000"/><line x1="804.5" y1="270" x2="804.5" y2="294" stroke="#000"/><rect x="802.5" y="286.5" width="4" height="7" fill="#fff" stroke="#000"/><line x1="812.5" y1="281" x2="812.5" y2="290" stroke="#000"/><rect x="810.5" y="284.5" width="4" height="2" fill="#fff" stroke="#000"/><line x1="820.5" y1="282" x2="820.5" y2="286" stroke="#000"/><rect x="818.5" y="282.5" width="4" height="3" fill="#fff" stroke="#000"/><line x1="828.5" y1="255" x2="828.5" y2="290" stroke="#000"/><rect x="826.5" y="261.5" width="4" height="21" fill="#fff" stroke="#000"/><line x1="836.5" y1="235" x2="836.5" y2="264" stroke="#000"/><rect x="834.5" y="244.5" width="4" height="17" fill="#fff" stroke="#000"/><line x1="844.5" y1="223" x2="844.5" y2="249" stroke="#000"/><rect x="842.5" y="223.5" width="4" height="21" fill="#fff" stroke="#000"/><line x1="852.5" y1="220" x2="852.5" y2="238" stroke="#000"/><rect x="850" y="223" width="5" height="8" fill="#000"/><line x1="860.5" y1="228" x2="860.5" y2="239" stroke="#000"/><rect x="858" y="230" width="5" height="8" fill="#000"/><line x1="868.5" y1="230" x2="868.5" y2="240" stroke="#000"/><rect x="866.5" y="233.5" width="4" height="3" fill="#fff" stroke="#000"/><line x1="876.5" y1="229" x2="876.5" y2="252" stroke="#000"/><rect x="874" y="233" width="5" height="3" fill="#000"/><line x1="884.5" y1="220" x2="884.5" y2="248" stroke="#000"/><rect x="882.5" y="232.5" width="4" height="3" fill="#fff" stroke="#000"/><line x1="892.5" y1="222" x2="892.5" y2="234" stroke="#000"/><rect x="890" y="231" width="5" height="3" fill="#000"/><line x1="900.5" y1="227" x2="900.5" y2="267" stroke="#000"/><rect x="898" y="233" width="5" height="12" fill="#000"/><line x1="908.5" y1="239" x2="908.5" y2="254" stroke="#000"/><rect x="906.5" y="240.5" width="4" height="4" fill="#fff" stroke="#000"/><line x1="916.5" y1="232" x2="916.5" y2="242" stroke="#000"/><rect x="914.5" y="235.5" width="4" height="6" fill="#fff" stroke="#000"/><line x1="924.5" y1="225" x2="924.5" y2="241" stroke="#000"/><rect x="922.5" y="232.5" width="4" height="4" fill="#fff" stroke="#000"/><line x1="932.5" y1="195" x2="932.5" y2="234" stroke="#000"/><rect x="930.5" y="207.5" width="4" height="25" fill="#fff" stroke="#000"/><line x1="940.5" y1="199" x2="940.5" y2="228" stroke="#000"/><rect x="938" y="207" width="5" height="12" fill="#000"/><line x1="948.5" y1="209" x2="948.5" y2="234" stroke="#000"/><rect x="946" y="217" width="5" height="15" fill="#000"/><line x1="956.5" y1="222" x2="956.5" y2="240" stroke="#000"/><rect x="954.5" y="224.5" width="4" height="7" fill="#fff" stroke="#000"/><line x1="964.5" y1="223" x2="964.5" y2="240" stroke="#000"/><rect x="962" y="224" width="5" height="16" fill="#000"/><line x1="972.5" y1="228" x2="972.5" y2="252" stroke="#000"/><rect x="970" y="238" width="5" height="9" fill="#000"/><line x1="980.5" y1="238" x2="980.5" y2="253" stroke="#000"/><rect x="978.5" y="240.5" width="4" height="6" fill="#fff" stroke="#000"/><line x1="988.5" y1="235" x2="988.5" y2="248" stroke="#000"/><rect x="986.5" y="240.5" width="4" height="1" fill="#fff" stroke="#000"/><line x1="996.5" y1="208" x2="996.5" y2="244" stroke="#000"/><rect x="994.5" y="213.5" width="4" height="27" fill="#fff" stroke="#000"/><line x1="1004.5" y1="209" x2="1004.5" y2="218" stroke="#000"/><rect x="1002.5" y="212.5" width="4" height="2" fill="#fff" stroke="#000"/><line x1="1012.5" y1="199" x2="1012.5" y2="217" stroke="#000"/><rect x="1010.5" y="201.5" width="4" height="11" fill="#fff" stroke="#000"/><line x1="1020.5" y1="184" x2="1020.5" y2="208" stroke="#000"/><rect x="1018.5" y="192.5" width="4" height="9" fill="#fff" stroke="#000"/><line x1="1028.5" y1="178" x2="1028.5" y2="195" stroke="#000"/><rect x="1026.5" y="188.5" width="4" height="4" fill="#fff" stroke="#000"/><line x1="1036.5" y1="186" x2="1036.5" y2="192" stroke="#000"/><rect x="1034.5" y="188.5" width="4" height="1" fill="#fff" stroke="#000"/><line x1="1044.5" y1="185" x2="1044.5" y2="197" stroke="#000"/><rect x="1042" y="187" width="5" height="9" fill="#000"/><line x1="1052.5" y1="190" x2="1052.5" y2="196" stroke="#000"/><rect x="1050.5" y="192.5" width="4" height="3" fill="#fff" stroke="#000"/><line x1="1060.5" y1="177" x2="1060.5" y2="187" stroke="#000"/><rect x="1058.5" y="181.5" width="4" height="5" fill="#fff" stroke="#000"/><line x1="1068.5" y1="173" x2="1068.5" y2="200" stroke="#000"/><rect x="1066.5" y="178.5" width="4" height="2" fill="#fff" stroke="#000"/><line x1="1076.5" y1="178" x2="1076.5" y2="191" stroke="#000"/><rect x="1074" y="178" width="5" height="3" fill="#000"/><line x1="1084.5" y1="178" x2="1084.5" y2="187" stroke="#000"/><rect x="1082" y="180" width="5" height="5" fill="#000"/><line x1="1092.5" y1="172" x2="1092.5" y2="191" stroke="#000"/><rect x="1090.5" y="174.5" width="4" height="10" fill="#fff" stroke="#000"/><line x1="1100.5" y1="164" x2="1100.5" y2="175" stroke="#000"/><rect x="1098.5" y="166.5" width="4" height="7" fill="#fff" stroke="#000"/><line x1="1108.5" y1="153" x2="1108.5" y2="167" stroke="#000"/><rect x="1106.5" y="157.5" width="4" height="9" fill="#fff" stroke="#000"/><line x1="1116.5" y1="119" x2="1116.5" y2="166" stroke="#000"/><rect x="1114.5" y="121.5" width="4" height="35" fill="#fff" stroke="#000"/><line x1="1124.5" y1="103" x2="1124.5" y2="130" stroke="#000"/><rect x="1122.5" y="114.5" width="4" height="7" fill="#fff" stroke="#000"/><line x1="1132.5" y1="96" x2="1132.5" y2="117" stroke="#000"/><rect x="1130.5" y="109.5" width="4" height="7" fill="#fff" stroke="#000"/><line x1="1140.5" y1="76" x2="1140.5" y2="115" stroke="#000"/><rect x="1138.5" y="92.5" width="4" height="16" fill="#fff" stroke="#000"/><line x1="1148.5" y1="73" x2="1148.5" y2="93" stroke="#000"/><rect x="1146.5" y="79.5" width="4" height="13" fill="#fff" stroke="#000"/><line x1="1156.5" y1="54" x2="1156.5" y2="81" stroke="#000"/><rect x="1154.5" y="57.5" width="4" height="22" fill="#fff" stroke="#000"/><line x1="1164.5" y1="54" x2="1164.5" y2="117" stroke="#000"/><rect x="1162" y="57" width="5" height="46" fill="#000"/><line x1="1172.5" y1="83" x2="1172.5" y2="102" stroke="#000"/><rect x="1170.5" y="87.5" width="4" height="14" fill="#fff" stroke="#000"/><line x1="1180.5" y1="86" x2="1180.5" y2="138" stroke="#000"/><rect x="1178" y="87" width="5" height="38" fill="#000"/><line x1="1188.5" y1="105" x2="1188.5" y2="144" stroke="#000"/><rect x="1186" y="124" width="5" height="5" fill="#000"/><line x1="1196.5" y1="124" x2="1196.5" y2="134" stroke="#000"/><rect x="1194.5" y="126.5" width="4" height="2" fill="#fff" stroke="#000"/><line x1="1204.5" y1="107" x2="1204.5" y2="131" stroke="#000"/><rect x="1202.5" y="118.5" width="4" height="12" fill="#fff" stroke="#000"/><line x1="1212.5" y1="88" x2="1212.5" y2="120" stroke="#000"/><rect x="1210.5" y="103.5" width="4" height="14" fill="#fff" stroke="#000"/><line x1="1220.5" y1="97" x2="1220.5" y2="125" stroke="#000"/><rect x="1218" y="104" width="5" height="14" fill="#000"/><line x1="1228.5" y1="106" x2="1228.5" y2="127" stroke="#000"/><rect x="1226.5" y="108.5" width="4" height="9" fill="#fff" stroke="#000"/><line x1="1236.5" y1="85" x2="1236.5" y2="118" stroke="#000"/><rect x="1234.5" y="90.5" width="4" height="17" fill="#fff" stroke="#000"/><line x1="1244.5" y1="86" x2="1244.5" y2="117" stroke="#000"/><rect x="1242" y="90" width="5" height="15" fill="#000"/><line x1="1252.5" y1="95" x2="1252.5" y2="107" stroke="#000"/><rect x="1250.5" y="97.5" width="4" height="9" fill="#fff" stroke="#000"/><line x1="1260.5" y1="86" x2="1260.5" y2="104" stroke="#000"/><rect x="1258" y="97" width="5" height="2" fill="#000"/><line x1="1268.5" y1="95" x2="1268.5" y2="132" stroke="#000"/><rect x="1266" y="96" width="5" height="20" fill="#000"/><line x1="1276.5" y1="93" x2="1276.5" y2="117" stroke="#000"/><rect x="1274.5" y="105.5" width="4" height="11" fill="#fff" stroke="#000"/><line x1="1284.5" y1="68" x2="1284.5" y2="113" stroke="#000"/><rect x="1282.5" y="80.5" width="4" height="25" fill="#fff" stroke="#000"/><line x1="1292.5" y1="75" x2="1292.5" y2="100" stroke="#000"/><rect x="1290" y="81" width="5" height="12" fill="#000"/><line x1="1300.5" y1="83" x2="1300.5" y2="92" stroke="#000"/><rect x="1298" y="84" width="5" height="8" fill="#000"/><line x1="1308.5" y1="78" x2="1308.5" y2="109" stroke="#000"/><rect x="1306" y="90" width="5" height="13" fill="#000"/><line x1="1316.5" y1="90" x2="1316.5" y2="121" stroke="#000"/><rect x="1314" y="101" width="5" height="9" fill="#000"/><line x1="1324.5" y1="95" x2="1324.5" y2="125" stroke="#000"/><rect x="1322" y="108" width="5" height="4" fill="#000"/><line x1="1332.5" y1="106" x2="1332.5" y2="141" stroke="#000"/><rect x="1330" y="110" width="5" height="25" fill="#000"/><line x1="1340.5" y1="114" x2="1340.5" y2="140" stroke="#000"/><rect x="1338.5" y="117.5" width="4" height="17" fill="#fff" stroke="#000"/><line x1="1348.5" y1="108" x2="1348.5" y2="132" stroke="#000"/><rect x="1346" y="117" width="5" height="13" fill="#000"/><line x1="1356.5" y1="114" x2="1356.5" y2="149" stroke="#000"/><rect x="1354.5" y="116.5" width="4" height="12" fill="#fff" stroke="#000"/><line x1="1364.5" y1="108" x2="1364.5" y2="132" stroke="#000"/><rect x="1362" y="116" width="5" height="7" fill="#000"/><line x1="1372.5" y1="115" x2="1372.5" y2="139" stroke="#000"/><rect x="1370" y="122" width="5" height="17" fill="#000"/><line x1="1380.5" y1="136" x2="1380.5" y2="163" stroke="#000"/><rect x="1378" y="138" width="5" height="10" fill="#000"/><line x1="1388.5" y1="132" x2="1388.5" y2="148" stroke="#000"/><rect x="1386.5" y="144.5" width="4" height="2" fill="#fff" stroke="#000"/><line x1="1396.5" y1="143" x2="1396.5" y2="169" stroke="#000"/><rect x="1394" y="144" width="5" height="9" fill="#000"/><line x1="1404.5" y1="126" x2="1404.5" y2="153" stroke="#000"/><rect x="1402.5" y="130.5" width="4" height="22" fill="#fff" stroke="#000"/><line x1="1412.5" y1="113" x2="1412.5" y2="143" stroke="#000"/><rect x="1410.5" y="118.5" width="4" height="12" fill="#fff" stroke="#000"/><line x1="1420.5" y1="109" x2="1420.5" y2="129" stroke="#000"/><rect x="1418.5" y="116.5" width="4" height="2" fill="#fff" stroke="#000"/><line x1="1428.5" y1="91" x2="1428.5" y2="123" stroke="#000"/><rect x="1426.5" y="98.5" width="4" height="18" fill="#fff" stroke="#000"/><line x1="1436.5" y1="98" x2="1436.5" y2="110" stroke="#000"/><rect x="1434" y="98" width="5" height="7" fill="#000"/><line x1="1444.5" y1="97" x2="1444.5" y2="104" stroke="#000"/><rect x="1442.5" y="98.5" width="4" height="5" fill="#fff" stroke="#000"/></g><g clip-path="url(#cm)"><line x1="972" y1="243" x2="1158.7" y2="67.1" stroke="#ff0000" stroke-width="4"/><polygon points="1166.7,59.6 1161.4,72.9 1153.1,64.1" fill="#ff0000"/><line x1="1167" y1="62" x2="1192.2" y2="122.7" stroke="#ff0000" stroke-width="4"/><polygon points="1196.4,132.9 1185.9,123.2 1197.0,118.6" fill="#ff0000"/><line x1="1198" y1="132" x2="1280.4" y2="85.0" stroke="#ff0000" stroke-width="4"/><polygon points="1290,79.5 1281.7,91.2 1275.7,80.7" fill="#ff0000"/><line x1="1303.8" y1="84.2" x2="1390.7" y2="158.8" stroke="#ff0000" stroke-width="4"/><polygon points="1399,166 1385.2,162.1 1393.1,153.0" fill="#ff0000"/><line x1="1400.2" y1="167.6" x2="1469.2" y2="99.9" stroke="#ff0000" stroke-width="4"/><polygon points="1477.1,92.2 1472.0,105.6 1463.6,97.0" fill="#ff0000"/></g><polygon points="1442,27 1451.5,27 1446.7,31.8" fill="#c0c0c0" shape-rendering="geometricPrecision"/><path d="M0 26.5 H1647.5 V579.5 H0" fill="none" stroke="#000"/><path d="M0 581.5 H1647.5 V751.5 H0" fill="none" stroke="#000"/><path d="M0 753.5 H1647.5 V927.5 H0" fill="none" stroke="#000"/><line x1="1647" y1="576.5" x2="1650" y2="576.5" stroke="#000"/><text x="1653.5" y="579.5" style="font-family:'Liberation Sans',sans-serif;font-size:9px" fill="#000" stroke="#000" stroke-width="0.18" textLength="32.4" lengthAdjust="spacingAndGlyphs">117.980</text><line x1="1647" y1="543.5" x2="1650" y2="543.5" stroke="#000"/><text x="1653.5" y="546.5" style="font-family:'Liberation Sans',sans-serif;font-size:9px" fill="#000" stroke="#000" stroke-width="0.18" textLength="32.4" lengthAdjust="spacingAndGlyphs">118.700</text><line x1="1647" y1="510.5" x2="1650" y2="510.5" stroke="#000"/><text x="1653.5" y="513.5" style="font-family:'Liberation Sans',sans-serif;font-size:9px" fill="#000" stroke="#000" stroke-width="0.18" textLength="32.4" lengthAdjust="spacingAndGlyphs">119.420</text><line x1="1647" y1="477.5" x2="1650" y2="477.5" stroke="#000"/><text x="1653.5" y="480.5" style="font-family:'Liberation Sans',sans-serif;font-size:9px" fill="#000" stroke="#000" stroke-width="0.18" textLength="32.4" lengthAdjust="spacingAndGlyphs">120.140</text><line x1="1647" y1="444.5" x2="1650" y2="444.5" stroke="#000"/><text x="1653.5" y="447.5" style="font-family:'Liberation Sans',sans-serif;font-size:9px" fill="#000" stroke="#000" stroke-width="0.18" textLength="32.4" lengthAdjust="spacingAndGlyphs">120.860</text><line x1="1647" y1="411.5" x2="1650" y2="411.5" stroke="#000"/><text x="1653.5" y="414.5" style="font-family:'Liberation Sans',sans-serif;font-size:9px" fill="#000" stroke="#000" stroke-width="0.18" textLength="32.4" lengthAdjust="spacingAndGlyphs">121.580</text><line x1="1647" y1="378.5" x2="1650" y2="378.5" stroke="#000"/><text x="1653.5" y="381.5" style="font-family:'Liberation Sans',sans-serif;font-size:9px" fill="#000" stroke="#000" stroke-width="0.18" textLength="32.4" lengthAdjust="spacingAndGlyphs">122.300</text><line x1="1647" y1="345.5" x2="1650" y2="345.5" stroke="#000"/><text x="1653.5" y="348.5" style="font-family:'Liberation Sans',sans-serif;font-size:9px" fill="#000" stroke="#000" stroke-width="0.18" textLength="32.4" lengthAdjust="spacingAndGlyphs">123.020</text><line x1="1647" y1="312.5" x2="1650" y2="312.5" stroke="#000"/><text x="1653.5" y="315.5" style="font-family:'Liberation Sans',sans-serif;font-size:9px" fill="#000" stroke="#000" stroke-width="0.18" textLength="32.4" lengthAdjust="spacingAndGlyphs">123.740</text><line x1="1647" y1="279.5" x2="1650" y2="279.5" stroke="#000"/><text x="1653.5" y="282.5" style="font-family:'Liberation Sans',sans-serif;font-size:9px" fill="#000" stroke="#000" stroke-width="0.18" textLength="32.4" lengthAdjust="spacingAndGlyphs">124.460</text><line x1="1647" y1="246.5" x2="1650" y2="246.5" stroke="#000"/><text x="1653.5" y="249.5" style="font-family:'Liberation Sans',sans-serif;font-size:9px" fill="#000" stroke="#000" stroke-width="0.18" textLength="32.4" lengthAdjust="spacingAndGlyphs">125.180</text><line x1="1647" y1="213.5" x2="1650" y2="213.5" stroke="#000"/><text x="1653.5" y="216.5" style="font-family:'Liberation Sans',sans-serif;font-size:9px" fill="#000" stroke="#000" stroke-width="0.18" textLength="32.4" lengthAdjust="spacingAndGlyphs">125.900</text><line x1="1647" y1="180.5" x2="1650" y2="180.5" stroke="#000"/><text x="1653.5" y="183.5" style="font-family:'Liberation Sans',sans-serif;font-size:9px" fill="#000" stroke="#000" stroke-width="0.18" textLength="32.4" lengthAdjust="spacingAndGlyphs">126.640</text><line x1="1647" y1="147.5" x2="1650" y2="147.5" stroke="#000"/><text x="1653.5" y="150.5" style="font-family:'Liberation Sans',sans-serif;font-size:9px" fill="#000" stroke="#000" stroke-width="0.18" textLength="32.4" lengthAdjust="spacingAndGlyphs">127.360</text><line x1="1647" y1="114.5" x2="1650" y2="114.5" stroke="#000"/><text x="1653.5" y="117.5" style="font-family:'Liberation Sans',sans-serif;font-size:9px" fill="#000" stroke="#000" stroke-width="0.18" textLength="32.4" lengthAdjust="spacingAndGlyphs">128.080</text><line x1="1647" y1="81.5" x2="1650" y2="81.5" stroke="#000"/><text x="1653.5" y="84.5" style="font-family:'Liberation Sans',sans-serif;font-size:9px" fill="#000" stroke="#000" stroke-width="0.18" textLength="32.4" lengthAdjust="spacingAndGlyphs">128.800</text><line x1="1647" y1="48.5" x2="1650" y2="48.5" stroke="#000"/><text x="1653.5" y="51.5" style="font-family:'Liberation Sans',sans-serif;font-size:9px" fill="#000" stroke="#000" stroke-width="0.18" textLength="32.4" lengthAdjust="spacingAndGlyphs">129.520</text><rect x="1649" y="27" width="41" height="11" fill="#ff0000"/><text x="1653.5" y="36" style="font-family:'Liberation Sans',sans-serif;font-size:9px" fill="#fff" stroke="#fff" stroke-width="0.18" textLength="32.4" lengthAdjust="spacingAndGlyphs">129.829</text><rect x="1649" y="57" width="41" height="11" fill="#ff0000"/><text x="1653.5" y="66" style="font-family:'Liberation Sans',sans-serif;font-size:9px" fill="#fff" stroke="#fff" stroke-width="0.18" textLength="32.4" lengthAdjust="spacingAndGlyphs">129.175</text><rect x="1649" y="93" width="41" height="11" fill="#000000"/><text x="1653.5" y="102" style="font-family:'Liberation Sans',sans-serif;font-size:9px" fill="#fff" stroke="#fff" stroke-width="0.18" textLength="32.4" lengthAdjust="spacingAndGlyphs">128.413</text><rect x="1649" y="112" width="41" height="11" fill="#32cd32"/><text x="1653.5" y="121" style="font-family:'Liberation Sans',sans-serif;font-size:9px" fill="#fff" stroke="#fff" stroke-width="0.18" textLength="32.4" lengthAdjust="spacingAndGlyphs">127.993</text><rect x="1649" y="142" width="41" height="11" fill="#0000ff"/><text x="1653.5" y="151" style="font-family:'Liberation Sans',sans-serif;font-size:9px" fill="#fff" stroke="#fff" stroke-width="0.18" textLength="32.4" lengthAdjust="spacingAndGlyphs">127.321</text><rect x="1649" y="172" width="41" height="11" fill="#0000ff"/><text x="1653.5" y="181" style="font-family:'Liberation Sans',sans-serif;font-size:9px" fill="#fff" stroke="#fff" stroke-width="0.18" textLength="32.4" lengthAdjust="spacingAndGlyphs">126.666</text><g clip-path="url(#cd)"><line x1="4.5" y1="724.5" x2="4.5" y2="642.0" stroke="#c0c0c0"/><line x1="12.5" y1="724.5" x2="12.5" y2="643.9" stroke="#c0c0c0"/><line x1="20.5" y1="724.5" x2="20.5" y2="646.8" stroke="#c0c0c0"/><line x1="28.5" y1="724.5" x2="28.5" y2="650.2" stroke="#c0c0c0"/><line x1="36.5" y1="724.5" x2="36.5" y2="656.1" stroke="#c0c0c0"/><line x1="44.5" y1="724.5" x2="44.5" y2="658.8" stroke="#c0c0c0"/><line x1="52.5" y1="724.5" x2="52.5" y2="663.8" stroke="#c0c0c0"/><line x1="60.5" y1="724.5" x2="60.5" y2="664.8" stroke="#c0c0c0"/><line x1="68.5" y1="724.5" x2="68.5" y2="665.2" stroke="#c0c0c0"/><line x1="76.5" y1="724.5" x2="76.5" y2="664.0" stroke="#c0c0c0"/><line x1="84.5" y1="724.5" x2="84.5" y2="662.3" stroke="#c0c0c0"/><line x1="92.5" y1="724.5" x2="92.5" y2="662.4" stroke="#c0c0c0"/><line x1="100.5" y1="724.5" x2="100.5" y2="661.3" stroke="#c0c0c0"/><line x1="108.5" y1="724.5" x2="108.5" y2="662.3" stroke="#c0c0c0"/><line x1="116.5" y1="724.5" x2="116.5" y2="663.5" stroke="#c0c0c0"/><line x1="124.5" y1="724.5" x2="124.5" y2="665.6" stroke="#c0c0c0"/><line x1="132.5" y1="724.5" x2="132.5" y2="667.9" stroke="#c0c0c0"/><line x1="140.5" y1="724.5" x2="140.5" y2="666.2" stroke="#c0c0c0"/><line x1="148.5" y1="724.5" x2="148.5" y2="664.2" stroke="#c0c0c0"/><line x1="156.5" y1="724.5" x2="156.5" y2="659.7" stroke="#c0c0c0"/><line x1="164.5" y1="724.5" x2="164.5" y2="650.1" stroke="#c0c0c0"/><line x1="172.5" y1="724.5" x2="172.5" y2="639.8" stroke="#c0c0c0"/><line x1="180.5" y1="724.5" x2="180.5" y2="634.2" stroke="#c0c0c0"/><line x1="188.5" y1="724.5" x2="188.5" y2="629.6" stroke="#c0c0c0"/><line x1="196.5" y1="724.5" x2="196.5" y2="620.0" stroke="#c0c0c0"/><line x1="204.5" y1="724.5" x2="204.5" y2="616.9" stroke="#c0c0c0"/><line x1="212.5" y1="724.5" x2="212.5" y2="616.0" stroke="#c0c0c0"/><line x1="220.5" y1="724.5" x2="220.5" y2="619.6" stroke="#c0c0c0"/><line x1="228.5" y1="724.5" x2="228.5" y2="620.7" stroke="#c0c0c0"/><line x1="236.5" y1="724.5" x2="236.5" y2="621.7" stroke="#c0c0c0"/><line x1="244.5" y1="724.5" x2="244.5" y2="623.8" stroke="#c0c0c0"/><line x1="252.5" y1="724.5" x2="252.5" y2="625.3" stroke="#c0c0c0"/><line x1="260.5" y1="724.5" x2="260.5" y2="622.8" stroke="#c0c0c0"/><line x1="268.5" y1="724.5" x2="268.5" y2="622.6" stroke="#c0c0c0"/><line x1="276.5" y1="724.5" x2="276.5" y2="617.9" stroke="#c0c0c0"/><line x1="284.5" y1="724.5" x2="284.5" y2="612.3" stroke="#c0c0c0"/><line x1="292.5" y1="724.5" x2="292.5" y2="608.8" stroke="#c0c0c0"/><line x1="300.5" y1="724.5" x2="300.5" y2="616.4" stroke="#c0c0c0"/><line x1="308.5" y1="724.5" x2="308.5" y2="621.8" stroke="#c0c0c0"/><line x1="316.5" y1="724.5" x2="316.5" y2="628.1" stroke="#c0c0c0"/><line x1="324.5" y1="724.5" x2="324.5" y2="630.1" stroke="#c0c0c0"/><line x1="332.5" y1="724.5" x2="332.5" y2="631.1" stroke="#c0c0c0"/><line x1="340.5" y1="724.5" x2="340.5" y2="631.4" stroke="#c0c0c0"/><line x1="348.5" y1="724.5" x2="348.5" y2="622.7" stroke="#c0c0c0"/><line x1="356.5" y1="724.5" x2="356.5" y2="607.1" stroke="#c0c0c0"/><line x1="364.5" y1="724.5" x2="364.5" y2="594.8" stroke="#c0c0c0"/><line x1="372.5" y1="724.5" x2="372.5" y2="596.1" stroke="#c0c0c0"/><line x1="380.5" y1="724.5" x2="380.5" y2="591.7" stroke="#c0c0c0"/><line x1="388.5" y1="724.5" x2="388.5" y2="592.7" stroke="#c0c0c0"/><line x1="396.5" y1="724.5" x2="396.5" y2="599.7" stroke="#c0c0c0"/><line x1="404.5" y1="724.5" x2="404.5" y2="602.0" stroke="#c0c0c0"/><line x1="412.5" y1="724.5" x2="412.5" y2="605.3" stroke="#c0c0c0"/><line x1="420.5" y1="724.5" x2="420.5" y2="621.1" stroke="#c0c0c0"/><line x1="428.5" y1="724.5" x2="428.5" y2="631.2" stroke="#c0c0c0"/><line x1="436.5" y1="724.5" x2="436.5" y2="637.3" stroke="#c0c0c0"/><line x1="444.5" y1="724.5" x2="444.5" y2="660.6" stroke="#c0c0c0"/><line x1="452.5" y1="724.5" x2="452.5" y2="677.0" stroke="#c0c0c0"/><line x1="460.5" y1="724.5" x2="460.5" y2="692.2" stroke="#c0c0c0"/><line x1="468.5" y1="724.5" x2="468.5" y2="701.6" stroke="#c0c0c0"/><line x1="476.5" y1="724.5" x2="476.5" y2="710.8" stroke="#c0c0c0"/><line x1="484.5" y1="724.5" x2="484.5" y2="715.8" stroke="#c0c0c0"/><line x1="492.5" y1="724.5" x2="492.5" y2="716.1" stroke="#c0c0c0"/><line x1="500.5" y1="724.5" x2="500.5" y2="725.0" stroke="#c0c0c0"/><line x1="508.5" y1="724.5" x2="508.5" y2="731.8" stroke="#c0c0c0"/><line x1="516.5" y1="724.5" x2="516.5" y2="739.7" stroke="#c0c0c0"/><line x1="524.5" y1="724.5" x2="524.5" y2="742.0" stroke="#c0c0c0"/><line x1="532.5" y1="724.5" x2="532.5" y2="743.4" stroke="#c0c0c0"/><line x1="540.5" y1="724.5" x2="540.5" y2="733.5" stroke="#c0c0c0"/><line x1="548.5" y1="724.5" x2="548.5" y2="725.7" stroke="#c0c0c0"/><line x1="556.5" y1="724.5" x2="556.5" y2="721.6" stroke="#c0c0c0"/><line x1="564.5" y1="724.5" x2="564.5" y2="716.9" stroke="#c0c0c0"/><line x1="572.5" y1="724.5" x2="572.5" y2="713.1" stroke="#c0c0c0"/><line x1="580.5" y1="724.5" x2="580.5" y2="709.8" stroke="#c0c0c0"/><line x1="588.5" y1="724.5" x2="588.5" y2="706.4" stroke="#c0c0c0"/><line x1="596.5" y1="724.5" x2="596.5" y2="704.8" stroke="#c0c0c0"/><line x1="604.5" y1="724.5" x2="604.5" y2="702.2" stroke="#c0c0c0"/><line x1="612.5" y1="724.5" x2="612.5" y2="701.1" stroke="#c0c0c0"/><line x1="620.5" y1="724.5" x2="620.5" y2="700.1" stroke="#c0c0c0"/><line x1="628.5" y1="724.5" x2="628.5" y2="699.0" stroke="#c0c0c0"/><line x1="636.5" y1="724.5" x2="636.5" y2="702.0" stroke="#c0c0c0"/><line x1="644.5" y1="724.5" x2="644.5" y2="700.0" stroke="#c0c0c0"/><line x1="652.5" y1="724.5" x2="652.5" y2="698.5" stroke="#c0c0c0"/><line x1="660.5" y1="724.5" x2="660.5" y2="690.8" stroke="#c0c0c0"/><line x1="668.5" y1="724.5" x2="668.5" y2="683.8" stroke="#c0c0c0"/><line x1="676.5" y1="724.5" x2="676.5" y2="677.9" stroke="#c0c0c0"/><line x1="684.5" y1="724.5" x2="684.5" y2="672.9" stroke="#c0c0c0"/><line x1="692.5" y1="724.5" x2="692.5" y2="668.0" stroke="#c0c0c0"/><line x1="700.5" y1="724.5" x2="700.5" y2="664.8" stroke="#c0c0c0"/><line x1="708.5" y1="724.5" x2="708.5" y2="664.8" stroke="#c0c0c0"/><line x1="716.5" y1="724.5" x2="716.5" y2="664.6" stroke="#c0c0c0"/><line x1="724.5" y1="724.5" x2="724.5" y2="666.1" stroke="#c0c0c0"/><line x1="732.5" y1="724.5" x2="732.5" y2="668.0" stroke="#c0c0c0"/><line x1="740.5" y1="724.5" x2="740.5" y2="669.5" stroke="#c0c0c0"/><line x1="748.5" y1="724.5" x2="748.5" y2="669.1" stroke="#c0c0c0"/><line x1="756.5" y1="724.5" x2="756.5" y2="671.2" stroke="#c0c0c0"/><line x1="764.5" y1="724.5" x2="764.5" y2="671.8" stroke="#c0c0c0"/><line x1="772.5" y1="724.5" x2="772.5" y2="670.9" stroke="#c0c0c0"/><line x1="780.5" y1="724.5" x2="780.5" y2="672.7" stroke="#c0c0c0"/><line x1="788.5" y1="724.5" x2="788.5" y2="673.4" stroke="#c0c0c0"/><line x1="796.5" y1="724.5" x2="796.5" y2="673.1" stroke="#c0c0c0"/><line x1="804.5" y1="724.5" x2="804.5" y2="671.7" stroke="#c0c0c0"/><line x1="812.5" y1="724.5" x2="812.5" y2="670.7" stroke="#c0c0c0"/><line x1="820.5" y1="724.5" x2="820.5" y2="670.0" stroke="#c0c0c0"/><line x1="828.5" y1="724.5" x2="828.5" y2="664.6" stroke="#c0c0c0"/><line x1="836.5" y1="724.5" x2="836.5" y2="656.5" stroke="#c0c0c0"/><line x1="844.5" y1="724.5" x2="844.5" y2="645.5" stroke="#c0c0c0"/><line x1="852.5" y1="724.5" x2="852.5" y2="639.6" stroke="#c0c0c0"/><line x1="860.5" y1="724.5" x2="860.5" y2="637.5" stroke="#c0c0c0"/><line x1="868.5" y1="724.5" x2="868.5" y2="636.0" stroke="#c0c0c0"/><line x1="876.5" y1="724.5" x2="876.5" y2="636.4" stroke="#c0c0c0"/><line x1="884.5" y1="724.5" x2="884.5" y2="636.8" stroke="#c0c0c0"/><line x1="892.5" y1="724.5" x2="892.5" y2="638.5" stroke="#c0c0c0"/><line x1="900.5" y1="724.5" x2="900.5" y2="643.8" stroke="#c0c0c0"/><line x1="908.5" y1="724.5" x2="908.5" y2="647.7" stroke="#c0c0c0"/><line x1="916.5" y1="724.5" x2="916.5" y2="650.3" stroke="#c0c0c0"/><line x1="924.5" y1="724.5" x2="924.5" y2="652.5" stroke="#c0c0c0"/><line x1="932.5" y1="724.5" x2="932.5" y2="648.4" stroke="#c0c0c0"/><line x1="940.5" y1="724.5" x2="940.5" y2="648.9" stroke="#c0c0c0"/><line x1="948.5" y1="724.5" x2="948.5" y2="653.4" stroke="#c0c0c0"/><line x1="956.5" y1="724.5" x2="956.5" y2="656.1" stroke="#c0c0c0"/><line x1="964.5" y1="724.5" x2="964.5" y2="662.8" stroke="#c0c0c0"/><line x1="972.5" y1="724.5" x2="972.5" y2="670.6" stroke="#c0c0c0"/><line x1="980.5" y1="724.5" x2="980.5" y2="675.9" stroke="#c0c0c0"/><line x1="988.5" y1="724.5" x2="988.5" y2="680.4" stroke="#c0c0c0"/><line x1="996.5" y1="724.5" x2="996.5" y2="677.5" stroke="#c0c0c0"/><line x1="1004.5" y1="724.5" x2="1004.5" y2="675.4" stroke="#c0c0c0"/><line x1="1012.5" y1="724.5" x2="1012.5" y2="671.5" stroke="#c0c0c0"/><line x1="1020.5" y1="724.5" x2="1020.5" y2="666.8" stroke="#c0c0c0"/><line x1="1028.5" y1="724.5" x2="1028.5" y2="662.7" stroke="#c0c0c0"/><line x1="1036.5" y1="724.5" x2="1036.5" y2="660.2" stroke="#c0c0c0"/><line x1="1044.5" y1="724.5" x2="1044.5" y2="660.6" stroke="#c0c0c0"/><line x1="1052.5" y1="724.5" x2="1052.5" y2="661.2" stroke="#c0c0c0"/><line x1="1060.5" y1="724.5" x2="1060.5" y2="659.3" stroke="#c0c0c0"/><line x1="1068.5" y1="724.5" x2="1068.5" y2="657.9" stroke="#c0c0c0"/><line x1="1076.5" y1="724.5" x2="1076.5" y2="658.0" stroke="#c0c0c0"/><line x1="1084.5" y1="724.5" x2="1084.5" y2="660.0" stroke="#c0c0c0"/><line x1="1092.5" y1="724.5" x2="1092.5" y2="659.6" stroke="#c0c0c0"/><line x1="1100.5" y1="724.5" x2="1100.5" y2="657.9" stroke="#c0c0c0"/><line x1="1108.5" y1="724.5" x2="1108.5" y2="655.0" stroke="#c0c0c0"/><line x1="1116.5" y1="724.5" x2="1116.5" y2="644.1" stroke="#c0c0c0"/><line x1="1124.5" y1="724.5" x2="1124.5" y2="634.7" stroke="#c0c0c0"/><line x1="1132.5" y1="724.5" x2="1132.5" y2="627.0" stroke="#c0c0c0"/><line x1="1140.5" y1="724.5" x2="1140.5" y2="617.6" stroke="#c0c0c0"/><line x1="1148.5" y1="724.5" x2="1148.5" y2="607.8" stroke="#c0c0c0"/><line x1="1156.5" y1="724.5" x2="1156.5" y2="596.0" stroke="#c0c0c0"/><line x1="1164.5" y1="724.5" x2="1164.5" y2="599.7" stroke="#c0c0c0"/><line x1="1172.5" y1="724.5" x2="1172.5" y2="600.4" stroke="#c0c0c0"/><line x1="1180.5" y1="724.5" x2="1180.5" y2="611.8" stroke="#c0c0c0"/><line x1="1188.5" y1="724.5" x2="1188.5" y2="623.3" stroke="#c0c0c0"/><line x1="1196.5" y1="724.5" x2="1196.5" y2="632.8" stroke="#c0c0c0"/><line x1="1204.5" y1="724.5" x2="1204.5" y2="639.3" stroke="#c0c0c0"/><line x1="1212.5" y1="724.5" x2="1212.5" y2="641.4" stroke="#c0c0c0"/><line x1="1220.5" y1="724.5" x2="1220.5" y2="647.7" stroke="#c0c0c0"/><line x1="1228.5" y1="724.5" x2="1228.5" y2="650.9" stroke="#c0c0c0"/><line x1="1236.5" y1="724.5" x2="1236.5" y2="649.8" stroke="#c0c0c0"/><line x1="1244.5" y1="724.5" x2="1244.5" y2="653.2" stroke="#c0c0c0"/><line x1="1252.5" y1="724.5" x2="1252.5" y2="655.1" stroke="#c0c0c0"/><line x1="1260.5" y1="724.5" x2="1260.5" y2="657.6" stroke="#c0c0c0"/><line x1="1268.5" y1="724.5" x2="1268.5" y2="664.7" stroke="#c0c0c0"/><line x1="1276.5" y1="724.5" x2="1276.5" y2="668.4" stroke="#c0c0c0"/><line x1="1284.5" y1="724.5" x2="1284.5" y2="665.2" stroke="#c0c0c0"/><line x1="1292.5" y1="724.5" x2="1292.5" y2="666.5" stroke="#c0c0c0"/><line x1="1300.5" y1="724.5" x2="1300.5" y2="667.9" stroke="#c0c0c0"/><line x1="1308.5" y1="724.5" x2="1308.5" y2="672.6" stroke="#c0c0c0"/><line x1="1316.5" y1="724.5" x2="1316.5" y2="678.7" stroke="#c0c0c0"/><line x1="1324.5" y1="724.5" x2="1324.5" y2="684.5" stroke="#c0c0c0"/><line x1="1332.5" y1="724.5" x2="1332.5" y2="695.5" stroke="#c0c0c0"/><line x1="1340.5" y1="724.5" x2="1340.5" y2="700.2" stroke="#c0c0c0"/><line x1="1348.5" y1="724.5" x2="1348.5" y2="707.2" stroke="#c0c0c0"/><line x1="1356.5" y1="724.5" x2="1356.5" y2="709.5" stroke="#c0c0c0"/><line x1="1364.5" y1="724.5" x2="1364.5" y2="713.2" stroke="#c0c0c0"/><line x1="1372.5" y1="724.5" x2="1372.5" y2="720.3" stroke="#c0c0c0"/><line x1="1380.5" y1="724.5" x2="1380.5" y2="728.1" stroke="#c0c0c0"/><line x1="1388.5" y1="724.5" x2="1388.5" y2="733.6" stroke="#c0c0c0"/><line x1="1396.5" y1="724.5" x2="1396.5" y2="739.8" stroke="#c0c0c0"/><line x1="1404.5" y1="724.5" x2="1404.5" y2="738.8" stroke="#c0c0c0"/><line x1="1412.5" y1="724.5" x2="1412.5" y2="734.7" stroke="#c0c0c0"/><line x1="1420.5" y1="724.5" x2="1420.5" y2="730.7" stroke="#c0c0c0"/><line x1="1428.5" y1="724.5" x2="1428.5" y2="722.8" stroke="#c0c0c0"/><line x1="1436.5" y1="724.5" x2="1436.5" y2="718.1" stroke="#c0c0c0"/><line x1="1444.5" y1="724.5" x2="1444.5" y2="713.2" stroke="#c0c0c0"/><polyline points="-3.5,639.7 4.5,640.5 12.5,641.3 20.5,642.3 28.5,643.6 36.5,645.4 44.5,647.4 52.5,649.8 60.5,652.2 68.5,654.6 76.5,657.1 84.5,659.1 92.5,660.8 100.5,662.1 108.5,662.8 116.5,663.3 124.5,663.5 132.5,663.8 140.5,663.9 148.5,664.0 156.5,663.7 164.5,662.3 172.5,659.9 180.5,656.8 188.5,653.0 196.5,648.0 204.5,642.3 212.5,636.7 220.5,631.8 228.5,627.4 236.5,624.3 244.5,622.5 252.5,621.5 260.5,620.8 268.5,621.0 276.5,621.2 284.5,620.8 292.5,619.5 300.5,619.1 308.5,619.1 316.5,619.6 324.5,620.1 332.5,621.0 340.5,622.0 348.5,622.5 356.5,622.0 364.5,620.4 372.5,618.2 380.5,614.8 388.5,610.9 396.5,607.5 404.5,604.3 412.5,601.4 420.5,601.2 428.5,603.9 436.5,608.6 444.5,615.7 452.5,625.2 460.5,636.3 468.5,647.6 476.5,659.7 484.5,672.0 492.5,682.5 500.5,692.9 508.5,703.4 516.5,712.2 524.5,719.5 532.5,725.1 540.5,728.7 548.5,730.3 556.5,731.0 564.5,731.0 572.5,729.7 580.5,727.3 588.5,723.6 596.5,719.5 604.5,714.9 612.5,711.3 620.5,708.4 628.5,705.9 636.5,704.3 644.5,702.8 652.5,701.6 660.5,699.8 668.5,697.5 676.5,694.8 684.5,691.6 692.5,688.1 700.5,684.3 708.5,680.1 716.5,676.2 724.5,672.6 732.5,670.1 740.5,668.5 748.5,667.5 756.5,667.3 764.5,667.8 772.5,668.4 780.5,669.3 788.5,670.3 796.5,671.1 804.5,671.5 812.5,671.6 820.5,671.7 828.5,671.0 836.5,669.3 844.5,666.5 852.5,662.8 860.5,658.8 868.5,654.7 876.5,650.8 884.5,647.0 892.5,643.5 900.5,641.2 908.5,640.2 916.5,640.7 924.5,642.2 932.5,643.4 940.5,644.8 948.5,646.7 956.5,648.9 964.5,651.6 972.5,654.5 980.5,657.7 988.5,661.0 996.5,663.8 1004.5,666.8 1012.5,669.3 1020.5,670.8 1028.5,671.5 1036.5,671.2 1044.5,670.1 1052.5,668.5 1060.5,666.1 1068.5,664.0 1076.5,662.0 1084.5,660.7 1092.5,659.9 1100.5,659.4 1108.5,658.8 1116.5,657.0 1124.5,654.1 1132.5,650.5 1140.5,646.0 1148.5,640.4 1156.5,633.3 1164.5,626.6 1172.5,620.3 1180.5,615.5 1188.5,613.1 1196.5,612.9 1204.5,614.3 1212.5,616.9 1220.5,621.4 1228.5,627.5 1236.5,633.0 1244.5,638.9 1252.5,643.7 1260.5,647.5 1268.5,651.1 1276.5,654.3 1284.5,657.0 1292.5,659.0 1300.5,660.9 1308.5,663.5 1316.5,666.3 1324.5,669.6 1332.5,673.8 1340.5,677.7 1348.5,682.0 1356.5,687.0 1364.5,692.2 1372.5,698.0 1380.5,704.1 1388.5,710.2 1396.5,716.4 1404.5,721.2 1412.5,725.0 1420.5,727.6 1428.5,729.1 1436.5,729.7 1444.5,728.9" fill="none" stroke="#ff0000" stroke-dasharray="3,3"/><line x1="1264.1" y1="669" x2="1397.1" y2="738.5" stroke="#ff0000" stroke-width="4"/><polygon points="1405.1,742.7 1392.8,742.5 1397.9,732.7" fill="#ff0000"/><line x1="1405.1" y1="742.7" x2="1446.9" y2="717.6" stroke="#ff0000" stroke-width="4"/><polygon points="1454.6,713 1448.0,723.4 1442.3,713.9" fill="#ff0000"/></g><line x1="1647" y1="583.5" x2="1650" y2="583.5" stroke="#000"/><line x1="1647" y1="724.5" x2="1650" y2="724.5" stroke="#000"/><line x1="1647" y1="750.5" x2="1650" y2="750.5" stroke="#000"/><text x="1651" y="592" style="font-family:'Liberation Sans',sans-serif;font-size:9px" fill="#000" stroke="#000" stroke-width="0.18" textLength="27.5" lengthAdjust="spacingAndGlyphs">0.9337</text><text x="1651" y="728" style="font-family:'Liberation Sans',sans-serif;font-size:9px" fill="#000" stroke="#000" stroke-width="0.18" textLength="17.8" lengthAdjust="spacingAndGlyphs">0.00</text><text x="1651" y="748" style="font-family:'Liberation Sans',sans-serif;font-size:9px" fill="#000" stroke="#000" stroke-width="0.18" textLength="30.8" lengthAdjust="spacingAndGlyphs">-0.1744</text><text x="-7.5" y="593.3" style="font-family:'Liberation Sans',sans-serif;font-size:9px" fill="#000" stroke="#000" stroke-width="0.18" textLength="130" lengthAdjust="spacingAndGlyphs">MACD(12,26,9) 0.0754 -0.0284</text><g clip-path="url(#cr)"><line x1="1" y1="789.5" x2="1647" y2="789.5" stroke="#c0c0c0" stroke-dasharray="3,3"/><line x1="1" y1="840.5" x2="1647" y2="840.5" stroke="#c0c0c0" stroke-dasharray="3,3"/><line x1="1" y1="901.5" x2="1647" y2="901.5" stroke="#c0c0c0" stroke-dasharray="3,3"/><polyline points="-3.5,795.9 4.5,792.3 12.5,804.1 20.5,806.6 28.5,807.9 36.5,819.3 44.5,812.6 52.5,821.9 60.5,813.0 68.5,810.7 76.5,806.3 84.5,803.2 92.5,807.1 100.5,803.3 108.5,808.5 116.5,807.9 124.5,810.7 132.5,810.4 140.5,800.6 148.5,798.0 156.5,791.6 164.5,783.1 172.5,779.8 180.5,787.3 188.5,786.0 196.5,779.5 204.5,793.0 212.5,794.2 220.5,806.4 228.5,802.0 236.5,800.4 244.5,801.5 252.5,799.4 260.5,792.8 268.5,795.4 276.5,788.8 284.5,785.6 292.5,785.3 300.5,817.4 308.5,814.6 316.5,817.1 324.5,810.6 332.5,808.0 340.5,805.8 348.5,793.9 356.5,786.1 364.5,785.2 372.5,810.2 380.5,803.4 388.5,809.9 396.5,819.6 404.5,814.5 412.5,814.6 420.5,836.2 428.5,831.6 436.5,827.8 444.5,851.8 452.5,848.3 460.5,850.5 468.5,846.1 476.5,848.2 484.5,844.5 492.5,838.8 500.5,850.6 508.5,850.6 516.5,854.0 524.5,847.6 532.5,847.1 540.5,830.6 548.5,830.6 556.5,834.3 564.5,831.9 572.5,831.6 580.5,830.8 588.5,829.1 596.5,831.1 604.5,827.9 612.5,830.1 620.5,828.9 628.5,827.9 636.5,837.8 644.5,827.4 652.5,826.9 660.5,814.0 668.5,811.8 676.5,810.5 684.5,808.9 692.5,806.3 700.5,806.2 708.5,813.7 716.5,812.0 724.5,815.8 732.5,816.2 740.5,814.4 748.5,809.2 756.5,818.0 764.5,813.5 772.5,809.0 780.5,817.8 788.5,814.4 796.5,811.2 804.5,806.9 812.5,805.8 820.5,804.6 828.5,794.0 836.5,787.8 844.5,782.1 852.5,790.7 860.5,797.8 868.5,796.5 876.5,799.0 884.5,797.5 892.5,799.8 900.5,813.6 908.5,811.1 916.5,808.1 924.5,806.6 932.5,794.8 940.5,806.9 948.5,820.0 956.5,816.4 964.5,829.5 972.5,835.0 980.5,831.4 988.5,830.9 996.5,815.1 1004.5,814.3 1012.5,809.3 1020.5,805.4 1028.5,803.6 1036.5,803.6 1044.5,811.0 1052.5,809.8 1060.5,803.9 1068.5,802.6 1076.5,805.1 1084.5,810.5 1092.5,804.6 1100.5,800.5 1108.5,796.4 1116.5,784.7 1124.5,783.1 1132.5,781.9 1140.5,778.4 1148.5,775.9 1156.5,772.8 1164.5,810.5 1172.5,806.1 1180.5,827.6 1188.5,829.9 1196.5,828.9 1204.5,825.8 1212.5,819.8 1220.5,828.1 1228.5,824.0 1236.5,817.6 1244.5,825.4 1252.5,822.9 1260.5,823.6 1268.5,833.6 1276.5,829.1 1284.5,818.4 1292.5,825.7 1300.5,825.3 1308.5,832.1 1316.5,836.1 1324.5,837.3 1332.5,849.8 1340.5,840.6 1348.5,846.6 1356.5,839.7 1364.5,843.0 1372.5,851.0 1380.5,854.8 1388.5,853.3 1396.5,857.0 1404.5,843.3 1412.5,836.8 1420.5,835.3 1428.5,826.2 1436.5,830.1 1444.5,827.4" fill="none" stroke="#1e90ff"/><line x1="1380.2" y1="857.4" x2="1444.1" y2="832.5" stroke="#ff0000" stroke-width="4.5"/><polygon points="1452.5,829.2 1444.3,838.3 1440.3,828.1" fill="#ff0000"/></g><line x1="1647" y1="755.5" x2="1650" y2="755.5" stroke="#000"/><text x="1651.5" y="764" style="font-family:'Liberation Sans',sans-serif;font-size:9px" fill="#000" stroke="#000" stroke-width="0.18" textLength="14.3" lengthAdjust="spacingAndGlyphs">100</text><text x="1650" y="793" style="font-family:'Liberation Sans',sans-serif;font-size:9px" fill="#000" stroke="#000" stroke-width="0.18" textLength="9.6" lengthAdjust="spacingAndGlyphs">80</text><text x="1650" y="844.5" style="font-family:'Liberation Sans',sans-serif;font-size:9px" fill="#000" stroke="#000" stroke-width="0.18" textLength="9.6" lengthAdjust="spacingAndGlyphs">50</text><text x="1650" y="905" style="font-family:'Liberation Sans',sans-serif;font-size:9px" fill="#000" stroke="#000" stroke-width="0.18" textLength="9.6" lengthAdjust="spacingAndGlyphs">15</text><text x="1651" y="924" style="font-family:'Liberation Sans',sans-serif;font-size:9px" fill="#000" stroke="#000" stroke-width="0.18" textLength="4.8" lengthAdjust="spacingAndGlyphs">0</text><text x="-6.5" y="765.6" style="font-family:'Liberation Sans',sans-serif;font-size:9px" fill="#000" stroke="#000" stroke-width="0.18" textLength="66" lengthAdjust="spacingAndGlyphs">RSI(14) 57.6485</text><line x1="-11.5" y1="927" x2="-11.5" y2="931" stroke="#000"/><text x="-12" y="939.5" style="font-family:'Liberation Sans',sans-serif;font-size:9.2px" fill="#000" stroke="#000" stroke-width="0.18">16 Mar 2022</text><line x1="52.5" y1="927" x2="52.5" y2="931" stroke="#000"/><text x="52" y="939.5" style="font-family:'Liberation Sans',sans-serif;font-size:9.2px" fill="#000" stroke="#000" stroke-width="0.18">17 Mar 20:00</text><line x1="116.5" y1="927" x2="116.5" y2="931" stroke="#000"/><text x="116" y="939.5" style="font-family:'Liberation Sans',sans-serif;font-size:9.2px" fill="#000" stroke="#000" stroke-width="0.18">21 Mar 04:00</text><line x1="180.5" y1="927" x2="180.5" y2="931" stroke="#000"/><text x="180" y="939.5" style="font-family:'Liberation Sans',sans-serif;font-size:9.2px" fill="#000" stroke="#000" stroke-width="0.18">22 Mar 12:00</text><line x1="244.5" y1="927" x2="244.5" y2="931" stroke="#000"/><text x="244" y="939.5" style="font-family:'Liberation Sans',sans-serif;font-size:9.2px" fill="#000" stroke="#000" stroke-width="0.18">23 Mar 20:00</text><line x1="308.5" y1="927" x2="308.5" y2="931" stroke="#000"/><text x="308" y="939.5" style="font-family:'Liberation Sans',sans-serif;font-size:9.2px" fill="#000" stroke="#000" stroke-width="0.18">25 Mar 04:00</text><line x1="372.5" y1="927" x2="372.5" y2="931" stroke="#000"/><text x="372" y="939.5" style="font-family:'Liberation Sans',sans-serif;font-size:9.2px" fill="#000" stroke="#000" stroke-width="0.18">28 Mar 12:00</text><line x1="436.5" y1="927" x2="436.5" y2="931" stroke="#000"/><text x="436" y="939.5" style="font-family:'Liberation Sans',sans-serif;font-size:9.2px" fill="#000" stroke="#000" stroke-width="0.18">29 Mar 20:00</text><line x1="500.5" y1="927" x2="500.5" y2="931" stroke="#000"/><text x="500" y="939.5" style="font-family:'Liberation Sans',sans-serif;font-size:9.2px" fill="#000" stroke="#000" stroke-width="0.18">31 Mar 04:00</text><line x1="564.5" y1="927" x2="564.5" y2="931" stroke="#000"/><text x="564" y="939.5" style="font-family:'Liberation Sans',sans-serif;font-size:9.2px" fill="#000" stroke="#000" stroke-width="0.18">1 Apr 12:00</text><line x1="628.5" y1="927" x2="628.5" y2="931" stroke="#000"/><text x="628" y="939.5" style="font-family:'Liberation Sans',sans-serif;font-size:9.2px" fill="#000" stroke="#000" stroke-width="0.18">4 Apr 20:00</text><line x1="692.5" y1="927" x2="692.5" y2="931" stroke="#000"/><text x="692" y="939.5" style="font-family:'Liberation Sans',sans-serif;font-size:9.2px" fill="#000" stroke="#000" stroke-width="0.18">6 Apr 04:00</text><line x1="756.5" y1="927" x2="756.5" y2="931" stroke="#000"/><text x="756" y="939.5" style="font-family:'Liberation Sans',sans-serif;font-size:9.2px" fill="#000" stroke="#000" stroke-width="0.18">7 Apr 12:00</text><line x1="820.5" y1="927" x2="820.5" y2="931" stroke="#000"/><text x="820" y="939.5" style="font-family:'Liberation Sans',sans-serif;font-size:9.2px" fill="#000" stroke="#000" stroke-width="0.18">10 Apr 23:00</text><line x1="884.5" y1="927" x2="884.5" y2="931" stroke="#000"/><text x="884" y="939.5" style="font-family:'Liberation Sans',sans-serif;font-size:9.2px" fill="#000" stroke="#000" stroke-width="0.18">12 Apr 04:00</text><line x1="948.5" y1="927" x2="948.5" y2="931" stroke="#000"/><text x="948" y="939.5" style="font-family:'Liberation Sans',sans-serif;font-size:9.2px" fill="#000" stroke="#000" stroke-width="0.18">13 Apr 12:00</text><line x1="1012.5" y1="927" x2="1012.5" y2="931" stroke="#000"/><text x="1012" y="939.5" style="font-family:'Liberation Sans',sans-serif;font-size:9.2px" fill="#000" stroke="#000" stroke-width="0.18">14 Apr 20:00</text><line x1="1076.5" y1="927" x2="1076.5" y2="931" stroke="#000"/><text x="1076" y="939.5" style="font-family:'Liberation Sans',sans-serif;font-size:9.2px" fill="#000" stroke="#000" stroke-width="0.18">18 Apr 04:00</text><line x1="1140.5" y1="927" x2="1140.5" y2="931" stroke="#000"/><text x="1140" y="939.5" style="font-family:'Liberation Sans',sans-serif;font-size:9.2px" fill="#000" stroke="#000" stroke-width="0.18">19 Apr 12:00</text><line x1="1204.5" y1="927" x2="1204.5" y2="931" stroke="#000"/><text x="1204" y="939.5" style="font-family:'Liberation Sans',sans-serif;font-size:9.2px" fill="#000" stroke="#000" stroke-width="0.18">20 Apr 20:00</text><line x1="1268.5" y1="927" x2="1268.5" y2="931" stroke="#000"/><text x="1268" y="939.5" style="font-family:'Liberation Sans',sans-serif;font-size:9.2px" fill="#000" stroke="#000" stroke-width="0.18">22 Apr 04:00</text><line x1="1332.5" y1="927" x2="1332.5" y2="931" stroke="#000"/><text x="1332" y="939.5" style="font-family:'Liberation Sans',sans-serif;font-size:9.2px" fill="#000" stroke="#000" stroke-width="0.18">25 Apr 12:00</text><line x1="1396.5" y1="927" x2="1396.5" y2="931" stroke="#000"/><text x="1396" y="939.5" style="font-family:'Liberation Sans',sans-serif;font-size:9.2px" fill="#000" stroke="#000" stroke-width="0.18">26 Apr 20:00</text><text x="3.4" y="37.7" style="font-family:'Liberation Sans',sans-serif;font-size:9px" fill="#000" stroke="#000" stroke-width="0.18" textLength="200" lengthAdjust="spacingAndGlyphs">USDJPY-,H4&#160; 128.301 128.437 128.301 128.413</text><defs>
<linearGradient id="gb" x1="0" y1="0" x2="0" y2="1"><stop offset="0" stop-color="#5c5cff"/><stop offset="1" stop-color="#3232e0"/></linearGradient>
<linearGradient id="gp" x1="0" y1="0" x2="0" y2="1"><stop offset="0" stop-color="#2c2cee"/><stop offset="1" stop-color="#0000b0"/></linearGradient>
<linearGradient id="gg" x1="0" y1="0" x2="0" y2="1"><stop offset="0" stop-color="#f4f4f4"/><stop offset="0.45" stop-color="#e8e8e8"/><stop offset="0.5" stop-color="#dcdcdc"/><stop offset="1" stop-color="#d0d0d0"/></linearGradient>
</defs><rect x="0" y="46" width="43" height="24" fill="#0000b4"/><rect x="0" y="47" width="42" height="23" fill="url(#gb)"/><rect x="158" y="46" width="52" height="24" fill="#0000b4"/><rect x="159" y="47" width="50" height="23" fill="url(#gb)"/><rect x="0" y="70" width="100" height="33" fill="#0000b4"/><rect x="0" y="71" width="99" height="31" fill="url(#gp)"/><rect x="102" y="70" width="108" height="33" fill="#0000b4"/><rect x="103" y="71" width="106" height="31" fill="url(#gp)"/><line x1="0" y1="70.5" x2="39" y2="70.5" stroke="#6c6cff"/><line x1="162" y1="69.5" x2="206" y2="69.5" stroke="#2020c8"/><line x1="162" y1="70.5" x2="206" y2="70.5" stroke="#6c6cff"/><rect x="43" y="46" width="115" height="24" fill="#fff"/><rect x="43.5" y="46.5" width="114" height="21" fill="#fff" stroke="#a8a8a8"/><rect x="45.5" y="47.5" width="20" height="19" fill="url(#gg)" stroke="#c0c0c0"/><rect x="134.5" y="47.5" width="21" height="19" fill="url(#gg)" stroke="#c0c0c0"/><line x1="66.5" y1="47" x2="66.5" y2="67" stroke="#b8b8b8"/><line x1="133.5" y1="47" x2="133.5" y2="67" stroke="#b8b8b8"/><polygon points="53,55 58,55 55.5,58" fill="#4a6fd0"/><polygon points="142,58.5 147,58.5 144.5,55.5" fill="#4a6fd0"/><text x="107.5" y="60.8" style="font-family:'Liberation Sans',sans-serif;font-size:12px" fill="#000" textLength="22.7" lengthAdjust="spacingAndGlyphs">1.00</text><text x="3.6" y="61.9" style="font-family:'Liberation Sans',sans-serif;font-size:12.9px" fill="#fff" textLength="25.5" lengthAdjust="spacingAndGlyphs">SELL</text><text x="172" y="62" style="font-family:'Liberation Sans',sans-serif;font-size:12.7px" fill="#fff" textLength="22.7" lengthAdjust="spacingAndGlyphs">BUY</text><text x="14.8" y="97.9" style="font-family:'Liberation Sans',sans-serif;font-size:12.4px;font-weight:bold" fill="#fff" textLength="20.2" lengthAdjust="spacingAndGlyphs">128</text><text x="38.3" y="97.9" style="font-family:'Liberation Sans',sans-serif;font-size:35px" fill="#fff" textLength="34.4" lengthAdjust="spacingAndGlyphs">41</text><text x="78.8" y="81.9" style="font-family:'Liberation Sans',sans-serif;font-size:12.6px;font-weight:bold" fill="#fff" textLength="5.9" lengthAdjust="spacingAndGlyphs">3</text><text x="124.8" y="97.9" style="font-family:'Liberation Sans',sans-serif;font-size:12.4px;font-weight:bold" fill="#fff" textLength="20" lengthAdjust="spacingAndGlyphs">128</text><text x="149.6" y="97.9" style="font-family:'Liberation Sans',sans-serif;font-size:35px" fill="#fff" textLength="33.6" lengthAdjust="spacingAndGlyphs">45</text><text x="188.9" y="81.8" style="font-family:'Liberation Sans',sans-serif;font-size:12.6px;font-weight:bold" fill="#fff" textLength="7.1" lengthAdjust="spacingAndGlyphs">4</text>
</svg>
</body></html>
